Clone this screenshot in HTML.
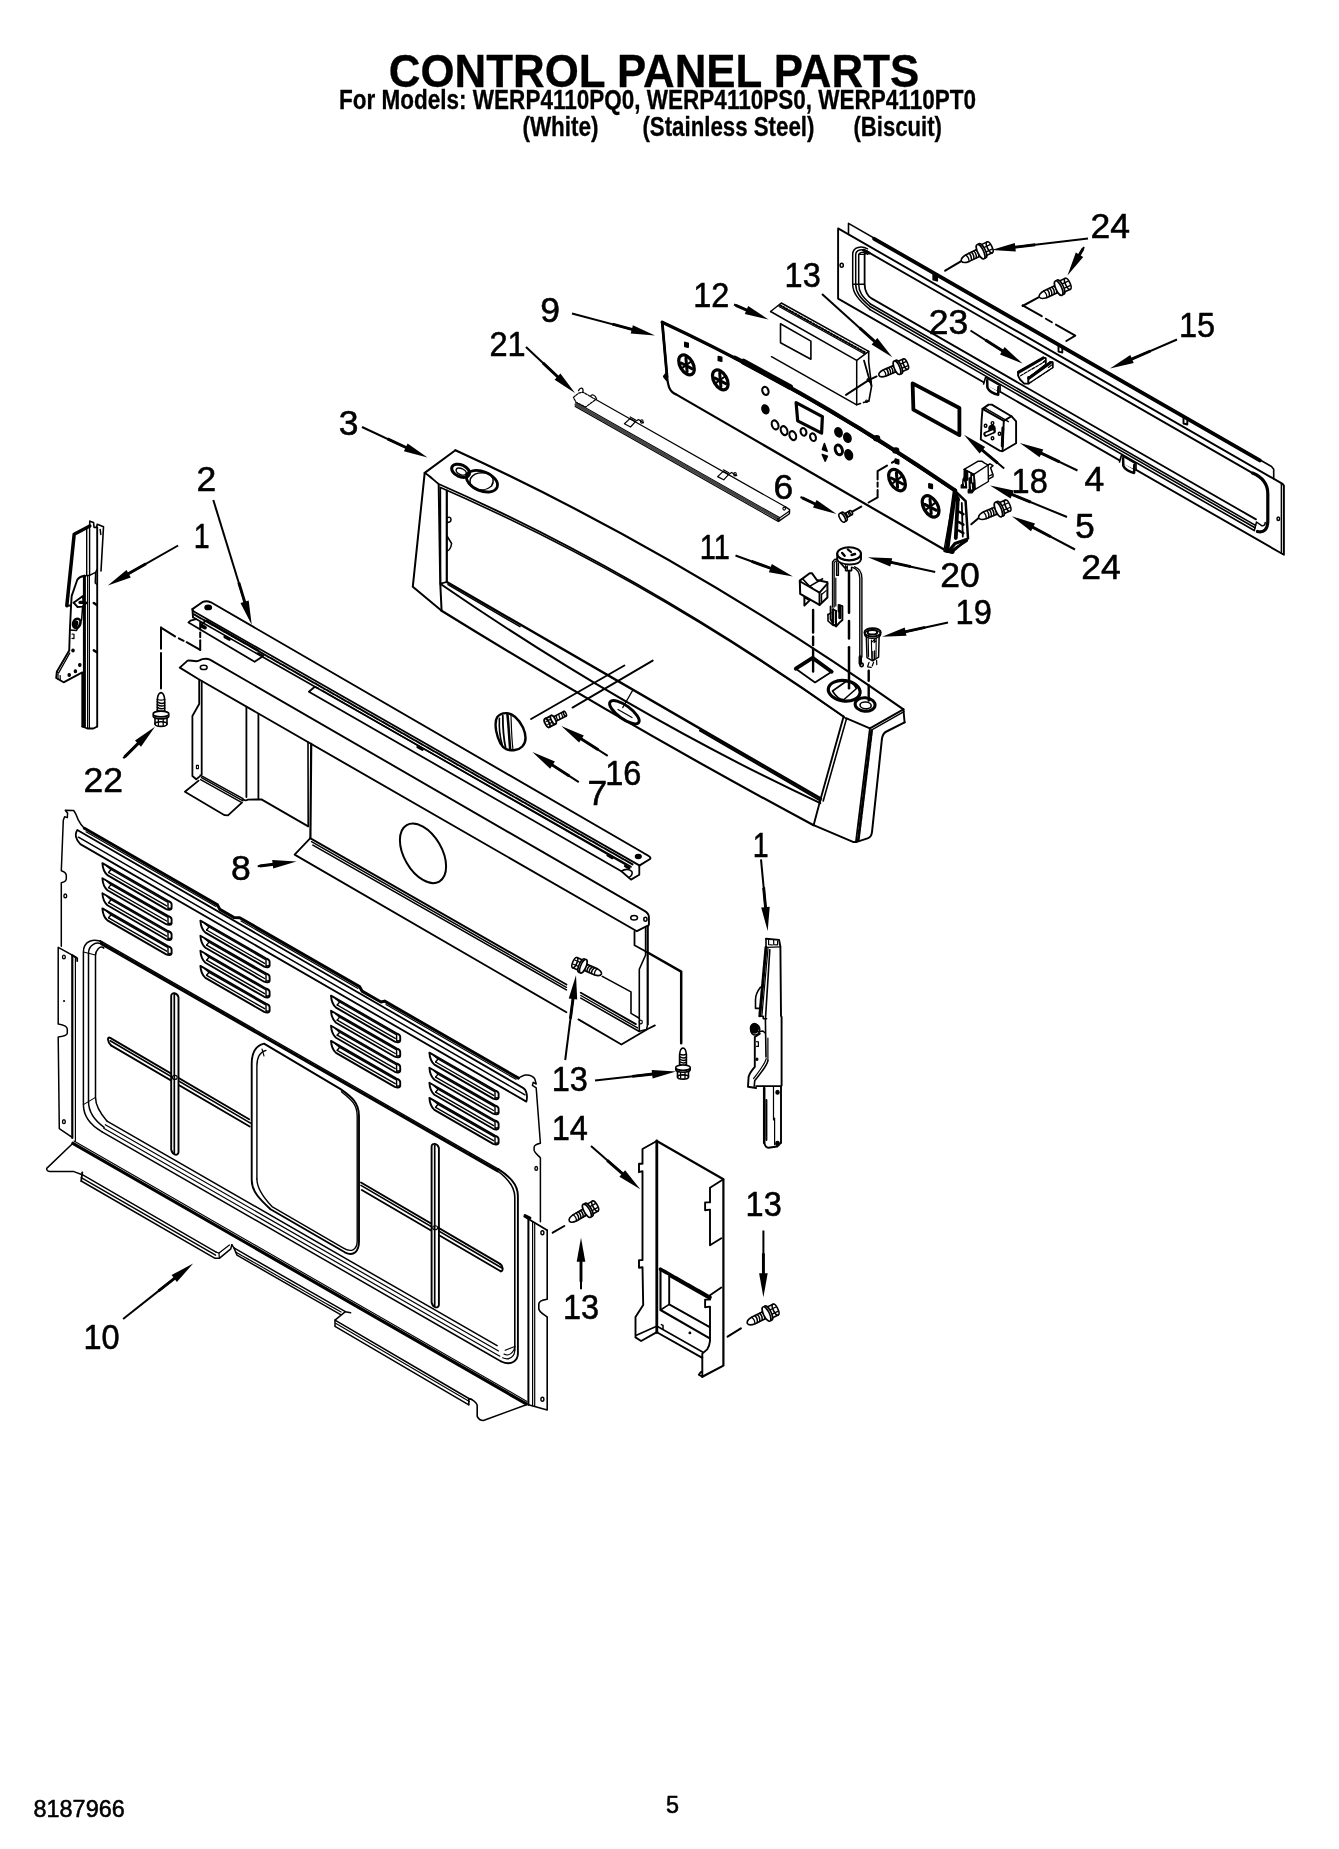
<!DOCTYPE html>
<html lang="en"><head><meta charset="utf-8"><title>CONTROL PANEL PARTS</title>
<style>
html,body{margin:0;padding:0;background:#fff;}
body{width:1339px;height:1849px;overflow:hidden;font-family:"Liberation Sans",sans-serif;}
svg{display:block;position:absolute;left:0;top:0;}
svg text{font-family:"Liberation Sans",sans-serif;fill:#000;stroke:#000;stroke-width:0.55px;stroke-linejoin:round;}
svg text.b{stroke-width:0.3px;}
svg{will-change:transform;}
svg .ah{fill:#000;stroke:none;}
svg .b{font-weight:bold;}
</style></head><body>
<svg width="1339" height="1849" viewBox="0 0 1339 1849" fill="none" stroke="#000" stroke-width="1.5" stroke-linecap="round" stroke-linejoin="round">
<rect x="0" y="0" width="1339" height="1849" fill="#fff" stroke="none"/>
<text class="b" x="388.8" y="86.6" font-size="46" textLength="530.4" lengthAdjust="spacingAndGlyphs">CONTROL PANEL PARTS</text>
<text class="b" x="339" y="108.7" font-size="26.8" textLength="637" lengthAdjust="spacingAndGlyphs">For Models: WERP4110PQ0, WERP4110PS0, WERP4110PT0</text>
<text class="b" x="522.4" y="136.3" font-size="26.8" textLength="76.2" lengthAdjust="spacingAndGlyphs">(White)</text>
<text class="b" x="642.4" y="136.3" font-size="26.8" textLength="172" lengthAdjust="spacingAndGlyphs">(Stainless Steel)</text>
<text class="b" x="853.4" y="136.3" font-size="26.8" textLength="88.6" lengthAdjust="spacingAndGlyphs">(Biscuit)</text>
<text x="33.6" y="1816.9" font-size="23.4">8187966</text>
<text x="666" y="1812.9" font-size="23.4">5</text>
<text x="1090.5" y="238.2" font-size="35.5">24</text>
<text transform="translate(784.6 287) scale(0.915 1)" font-size="35.5">13</text>
<text transform="translate(693.2 307) scale(0.914 1)" font-size="35.5">12</text>
<text x="540.3" y="322.2" font-size="35.5">9</text>
<text transform="translate(489.4 355.7) scale(0.917 1)" font-size="35.5">21</text>
<text x="928.8" y="334.4" font-size="35.5">23</text>
<text transform="translate(1178.9 336.7) scale(0.915 1)" font-size="35.5">15</text>
<text x="338.7" y="435.4" font-size="35.5">3</text>
<text x="196.5" y="491" font-size="35.5">2</text>
<text transform="translate(193.7 548.4) scale(0.804 1)" font-size="35.5">1</text>
<text x="773.5" y="499.2" font-size="35.5">6</text>
<text transform="translate(1011.6 493.2) scale(0.915 1)" font-size="35.5">18</text>
<text x="1084.5" y="490.7" font-size="35.5">4</text>
<text x="1074.9" y="538.4" font-size="35.5">5</text>
<text x="1081.2" y="578.7" font-size="35.5">24</text>
<text transform="translate(699.8 559.4) scale(0.815 1)" font-size="35.5">11</text>
<text x="940.2" y="587" font-size="35.5">20</text>
<text transform="translate(955.6 624.4) scale(0.915 1)" font-size="35.5">19</text>
<text transform="translate(605.2 785.4) scale(0.915 1)" font-size="35.5">16</text>
<text x="587.5" y="805.1" font-size="35.5">7</text>
<text x="83.5" y="792" font-size="35.5">22</text>
<text x="231" y="880" font-size="35.5">8</text>
<text transform="translate(752.7 856.7) scale(0.804 1)" font-size="35.5">1</text>
<text transform="translate(551.7 1091.4) scale(0.915 1)" font-size="35.5">13</text>
<text transform="translate(551.7 1140.1) scale(0.916 1)" font-size="35.5">14</text>
<text transform="translate(745.6 1215.7) scale(0.915 1)" font-size="35.5">13</text>
<text transform="translate(562.9 1318.7) scale(0.915 1)" font-size="35.5">13</text>
<text transform="translate(83.4 1349) scale(0.915 1)" font-size="35.5">10</text>
<polyline points="848.5,234.4 848.5,223.4 1271.5,466.5 1273.7,469.3 1273.7,478.7" stroke-width="1.6"/>
<polyline points="874.2,238.8 1259.8,460.4" stroke-width="3.8"/>
<polyline points="933.3,272.2 933.3,279.7 937.1,280.7 937.1,274.2" stroke-width="1.9" fill="#000"/>
<polyline points="1058.5,344.1 1058.5,351.6 1062.3,352.6 1062.3,346.1" stroke-width="1.9"/>
<polyline points="1183.5,416 1183.5,423.5 1187.3,424.5 1187.3,418" stroke-width="1.9"/>
<polygon points="838.1,228.4 1282.6,483.9 1283.9,485.6 1283.9,554.8 838.1,298.6" stroke-width="1.9"/>
<polyline points="1281.4,484.2 1281.4,552.4" stroke-width="1.5"/>
<ellipse cx="841.7" cy="265.2" rx="1.6" ry="2" stroke-width="1.5"/>
<ellipse cx="1278.3" cy="518.8" rx="1.3" ry="1.8" stroke-width="1.5"/>
<polyline points="866,250.9 1253.5,473.6" stroke-width="1.9"/>
<path d="M1252.5,473.1 C1262,477 1267.8,484 1267.8,494 L1267.8,521 C1267.8,529 1264,533 1257.5,531.5" stroke-width="3.2"/>
<path d="M1254.3,530.5 L1256.5,522 L1262,525.8 C1264,526 1265.2,524.5 1265.2,522.5" stroke-width="1.5"/>
<path d="M867.5,248.8 C862,245.6 852.7,246.5 852.7,254.4 L852.7,284.3 C852.7,293 858,299.5 870,309.6" stroke-width="1.5"/>
<path d="M867.5,251.5 C862.9,248.6 855.7,249.2 855.7,255 L855.7,284.3 C855.7,292.4 860.1,298 870,306.5" stroke-width="1.5"/>
<path d="M867.5,254.2 C863.8,251.6 858.7,251.9 858.7,255.6 L858.7,284.3 C858.7,291.8 862.2,296.5 870,303.5" stroke-width="1.5"/>
<polyline points="870,309.6 1254.3,530.5" stroke-width="1.6"/>
<polyline points="870,306.5 1255,527.8" stroke-width="1.6"/>
<polyline points="870,303.8 1255.5,525.4" stroke-width="1.6"/>
<path d="M868.2,252.2 L866.5,252 C865,252.5 864.6,254 864.6,256 L864.6,284 C864.6,291 868,296.5 871.5,298.4 L1256,519.4" stroke-width="1.8"/>
<polyline points="852.7,284.3 864.6,284.3" stroke-width="1.4"/>
<polyline points="858.7,254.5 864.6,254.5" stroke-width="1.2"/>
<polyline points="863.5,250.2 869,253" stroke-width="3"/>
<polyline points="983.6,383.9 985.6,377.2 1000.1,385.6 1000.1,392" stroke-width="1.6" fill="#fff"/>
<path d="M987.2,380.2 L987.4,387.6 C988.6,390.9 993.6,394 998.2,394.8 L998.4,387" stroke-width="2.5"/>
<polyline points="1119.5,462 1121.5,455.3 1136,463.7 1136,470.1" stroke-width="1.6" fill="#fff"/>
<path d="M1123.1,458.3 L1123.3,465.7 C1124.5,469 1129.5,472.1 1134.1,472.9 L1134.3,465.1" stroke-width="2.5"/>
<path d="M662.2,322.2 Q806.7,389.5 955,490.8 L944.5,549.8 Q810.5,472 676.5,394.6 C669.5,392 668,386 667.1,377.2 Z" stroke-width="2.2" fill="#fff"/>
<path d="M662.2,322.2 Q806.7,389.5 955,490.8" stroke-width="3.2"/>
<polyline points="734.7,357.5 742,361.3 749.2,365.1 756.5,369 763.8,373 771.1,377 778.4,381 785.7,385 793,389.2 800.3,393.3 807.7,397.5 815,401.7 822.3,406 829.6,410.3 837,414.7 844.3,419.1 851.7,423.6 859,428 866.4,432.6 873.7,437.2 881.1,441.8 888.5,446.4 895.8,451.1 903.2,455.9 910.6,460.7 918,465.5 925.4,470.4 932.8,475.3 940.2,480.3 947.6,485.3 955,490.3" stroke-width="4"/>
<polyline points="662.2,322.2 667.1,377.2" stroke-width="2.8"/>
<polygon points="666.4,373.5 664,376.5 666.8,380" stroke-width="2.2" fill="#000"/>
<polyline points="743.4,361.6 790.1,387" stroke-width="5.8"/>
<ellipse cx="876.7" cy="438.3" rx="2.6" ry="2.2" stroke-width="2" fill="#000"/>
<ellipse cx="895.8" cy="450.4" rx="2.6" ry="2.2" stroke-width="2" fill="#000"/>
<ellipse cx="686.5" cy="364.9" rx="10.8" ry="6.5" stroke-width="3.2" fill="#fff" transform="rotate(60 686.5 364.9)"/>
<polyline points="685.9,358.2 687.1,371.6" stroke-width="3"/>
<polyline points="681.1,363 691.9,368.6" stroke-width="3"/>
<polyline points="682,368.1 690.8,361.7" stroke-width="2"/>
<ellipse cx="720.3" cy="379.9" rx="10.8" ry="6.5" stroke-width="3.2" fill="#fff" transform="rotate(60 720.3 379.9)"/>
<polyline points="719.7,373.2 720.9,386.6" stroke-width="3"/>
<polyline points="714.9,378 725.7,383.6" stroke-width="3"/>
<polyline points="715.8,383.1 724.6,376.7" stroke-width="2"/>
<ellipse cx="897" cy="480.1" rx="11.6" ry="7" stroke-width="3.2" fill="#fff" transform="rotate(60 897 480.1)"/>
<polyline points="896.4,472.9 897.6,487.3" stroke-width="3"/>
<polyline points="891.2,478 902.8,484" stroke-width="3"/>
<polyline points="892.1,483.6 901.6,476.6" stroke-width="2"/>
<ellipse cx="930.6" cy="506.4" rx="11.6" ry="7" stroke-width="3.2" fill="#fff" transform="rotate(60 930.6 506.4)"/>
<polyline points="930,499.2 931.2,513.6" stroke-width="3"/>
<polyline points="924.8,504.3 936.4,510.3" stroke-width="3"/>
<polyline points="925.7,509.9 935.2,502.9" stroke-width="2"/>
<polygon points="684.9,342.5 688.1,343.3 688.1,347.1 684.9,346.3" stroke-width="1.8" fill="#000"/>
<polygon points="718.4,356.6 721.6,357.4 721.6,361.2 718.4,360.4" stroke-width="1.8" fill="#000"/>
<polygon points="895.4,459.2 898.6,460 898.6,463.8 895.4,463" stroke-width="1.8" fill="#000"/>
<polygon points="929,483.8 932.2,484.6 932.2,488.4 929,487.6" stroke-width="1.8" fill="#000"/>
<ellipse cx="765.4" cy="390.9" rx="3" ry="4.2" stroke-width="2.1" fill="#fff" transform="rotate(-20 765.4 390.9)"/>
<ellipse cx="765.4" cy="409.3" rx="3" ry="4.2" stroke-width="2.1" fill="#000" transform="rotate(-20 765.4 409.3)"/>
<ellipse cx="775.1" cy="424.9" rx="3.2" ry="4.6" stroke-width="2.1" fill="#fff" transform="rotate(-20 775.1 424.9)"/>
<ellipse cx="784.1" cy="430.6" rx="3.2" ry="4.6" stroke-width="2.1" fill="#fff" transform="rotate(-20 784.1 430.6)"/>
<ellipse cx="792.8" cy="435.6" rx="3.2" ry="4.6" stroke-width="2.1" fill="#fff" transform="rotate(-20 792.8 435.6)"/>
<ellipse cx="803.5" cy="431.9" rx="2.8" ry="3.9" stroke-width="2.1" fill="#fff" transform="rotate(-20 803.5 431.9)"/>
<ellipse cx="813" cy="437.2" rx="2.8" ry="3.9" stroke-width="2.1" fill="#fff" transform="rotate(-20 813 437.2)"/>
<ellipse cx="838.5" cy="432.3" rx="3.2" ry="4.4" stroke-width="2.1" fill="#000" transform="rotate(-20 838.5 432.3)"/>
<ellipse cx="847.4" cy="437.7" rx="3.2" ry="4.4" stroke-width="2.1" fill="#000" transform="rotate(-20 847.4 437.7)"/>
<ellipse cx="838.8" cy="449.9" rx="3.4" ry="5" stroke-width="3" fill="#fff" transform="rotate(-20 838.8 449.9)"/>
<ellipse cx="848.7" cy="454.8" rx="3.4" ry="4.8" stroke-width="2.1" fill="#000" transform="rotate(-20 848.7 454.8)"/>
<polygon points="824.4,443.5 827.2,451.2 822.4,449.6" stroke-width="1.5" fill="#000"/>
<polygon points="822.2,454.4 827.4,456.2 825.2,461.2" stroke-width="1.5" fill="#000"/>
<polygon points="796.1,402.7 822.4,416.7 821.6,433.1 797.7,420.8" stroke-width="3.2"/>
<polyline points="955,490.8 965.6,501.2 968,538.4 952.4,551.8 944.5,551" stroke-width="2.5" fill="#fff"/>
<polyline points="955,490.8 946.9,550.4" stroke-width="4.5"/>
<polyline points="957.8,498.5 955.8,538" stroke-width="3.8"/>
<polygon points="956,492.5 959,500 956.5,500" stroke-width="2" fill="#000"/>
<polyline points="961.8,503 962.8,536.5" stroke-width="1.8"/>
<polyline points="958.6,511.5 963.4,514.1" stroke-width="2.5"/>
<polyline points="958.6,522 963.4,524.6" stroke-width="2.5"/>
<polyline points="958.6,530.5 963.4,533.1" stroke-width="2.5"/>
<polyline points="946.9,550.4 952.4,551.8" stroke-width="4.5"/>
<polyline points="950.5,549 955,543.5 966.5,539.6" stroke-width="3.2"/>
<polyline points="953,549.8 966.8,540.6" stroke-width="2.5"/>
<polyline points="896.2,460.2 892,462.6" stroke-width="2.2"/>
<polyline points="887,465.6 877.6,471.1 877.6,479.4" stroke-width="2"/>
<polyline points="877.6,482.6 877.6,486.8" stroke-width="2"/>
<polyline points="877.6,490 877.6,497.4 868.6,502.5" stroke-width="2"/>
<polyline points="861.2,506.6 851.4,512.2" stroke-width="2"/>
<polyline points="770.6,311.5 781.3,303 868.7,351.4 856.7,360.4" stroke-width="1.5"/>
<polyline points="780.2,305.4 866,353" stroke-width="2.2" stroke-dasharray="1.4 2.0"/>
<polyline points="779,306.6 864.6,354" stroke-width="1.2"/>
<polyline points="770.6,311.5 856.7,360.4 856.7,404.8 771.5,356.7" stroke-width="1.5"/>
<polygon points="780.5,323.8 810.9,341.1 810.9,359.2 780.5,342.7" stroke-width="1.6"/>
<polyline points="868.7,351.4 868.7,362 871.6,386 868.9,401" stroke-width="1.6"/>
<polyline points="856.7,404.8 860.5,403.6" stroke-width="1.6"/>
<polyline points="863.5,402.6 868.5,401.2" stroke-width="1.6"/>
<ellipse cx="866.6" cy="401.2" rx="1" ry="1.2" stroke-width="1.2"/>
<polyline points="864,360.6 868.4,376 871.4,385.6" stroke-width="1.8"/>
<polyline points="846,394.9 868.7,380.1 876.6,376.4" stroke-width="1.9"/>
<polyline points="868,379.6 870.4,381.6" stroke-width="3"/>
<polygon points="912.6,383.4 959.4,408 959.4,435.2 913.4,409.7" stroke-width="3.8"/>
<polygon points="982.5,408.9 988.6,404.6 991.8,404.6 1011.4,416.2 1016.1,421.4 1016.1,443.2 1002.4,451.2 999.6,450.6 980.8,439.5 981.6,420" stroke-width="1.9" fill="#fff"/>
<polyline points="982.5,408.9 1003.8,420.9 1002.6,450.8" stroke-width="1.9"/>
<polyline points="1003.8,420.9 1011.4,416.2" stroke-width="1.9"/>
<polyline points="984.3,407.6 1008.4,421.6" stroke-width="1.4"/>
<polyline points="1002.8,428 1002.2,446" stroke-width="2.8"/>
<ellipse cx="985.6" cy="425.7" rx="1.3" ry="1.5" stroke-width="1.4"/>
<ellipse cx="992.5" cy="423.1" rx="1.3" ry="1.5" stroke-width="1.4"/>
<ellipse cx="999.5" cy="433.8" rx="1.3" ry="1.5" stroke-width="1.4"/>
<ellipse cx="992.5" cy="438.3" rx="1.3" ry="1.5" stroke-width="1.4"/>
<ellipse cx="992" cy="428.8" rx="3" ry="3.4" stroke-width="1.5" fill="#000"/>
<polyline points="993.2,431.2 986,434.2" stroke-width="5.2"/>
<polyline points="992.6,431.4 986.4,434" stroke-width="2" stroke="#fff"/>
<polygon points="964.2,469.3 978.2,461.2 981.7,461.2 984.6,463.2 988.1,465 988.4,481.5 975.2,489.3 973.8,474.4" stroke-width="1.4" fill="#fff"/>
<polyline points="964.2,469.3 973.8,474.4 988.1,465" stroke-width="1.4"/>
<polygon points="964.2,469.3 967.6,471.4 967.8,480 966.2,480.6 966.6,488 961.2,488 961.2,485 962.6,484.4 963,479 964,477.4" stroke-width="1.2" fill="#000"/>
<polygon points="969.1,478 970.8,477.6 971,473.2 973.8,474.4 974.8,480 974.8,489.5 972,492.8 968.2,492.8 968.2,490 969.3,489.2" stroke-width="1.2" fill="#000"/>
<polyline points="972.6,476.4 972.8,482" stroke-width="1.1" stroke="#fff"/>
<polyline points="971.2,484 971.6,489" stroke-width="1.1" stroke="#fff"/>
<polyline points="964,482 964.6,485.6" stroke-width="1" stroke="#fff"/>
<polyline points="988.1,465 990,463.8 993,465.6 990.6,467.8 993,474.8 993,476.6 988.6,479.2" stroke-width="1.5"/>
<polyline points="989,476 992,474.6" stroke-width="1.2"/>
<polygon points="1018.2,371.6 1043.4,357.4 1045.8,358 1045.8,363.8 1028.3,377.6 1050.4,361.8 1052.8,362.1 1052.8,367.6 1028.7,383.6 1024.2,383.6 1020.1,379.5 1018.2,375.8" stroke-width="1" fill="#fff"/>
<polyline points="1018.8,372.2 1043.2,358" stroke-width="3.1"/>
<polyline points="1042.6,357.8 1045.8,358 1045.8,363.8" stroke-width="1.5"/>
<polyline points="1020.5,375.8 1045.8,361" stroke-width="1.2" stroke-dasharray="3 1.4"/>
<polyline points="1018.2,371.6 1018.2,375.8 1020.1,379.5 1024.2,383.6 1028.7,383.6" stroke-width="1.8"/>
<polyline points="1028.8,378.2 1050.6,362.6" stroke-width="3.1"/>
<polyline points="1050,362 1052.8,362.1 1052.8,367.6" stroke-width="1.5"/>
<polyline points="1028.7,383.6 1052.8,367.6" stroke-width="1.4" stroke-dasharray="4 1.2"/>
<polyline points="1028.3,377 1028.3,382.2" stroke-width="2"/>
<polyline points="1043,362.4 1045.4,360.2" stroke-width="1.2"/>
<polyline points="1048.4,367.4 1051.6,365" stroke-width="1.2"/>
<path d="M455.4,450.3 Q679.4,552.6 903.4,709.3 L904.6,722.4 L884.3,733.2 L881.9,739.2 L871.7,834.8 L867.5,838.4 L856.8,841.9 L853,841.9 L813.6,825.2 Q627.8,725.9 441.6,610.7 L412.8,586.7 L424.7,472.9 Z" stroke-width="0.1" fill="#fff"/>
<path d="M455.4,450.3 Q679.4,552.6 903.4,709.3" stroke-width="2.2"/>
<polyline points="455.4,450.3 424.7,472.9" stroke-width="2"/>
<path d="M424.7,472.9 C430,476 434,480.5 438.7,484 Q641.2,573.0 843.6,716.5" stroke-width="1.9"/>
<path d="M440.5,487.6 Q642.5,575.4 846.2,718.6" stroke-width="1.6"/>
<polyline points="424.7,472.9 412.8,586.7 441.6,610.7" stroke-width="2"/>
<polyline points="438.7,484.6 440.2,582 441.6,610.7" stroke-width="2"/>
<polyline points="440.4,487.4 440.6,583.5" stroke-width="1.5"/>
<polyline points="446.8,490.5 446.8,582" stroke-width="2.2"/>
<polyline points="440.4,583.6 446.8,582" stroke-width="1.8"/>
<path d="M447,517.8 C449,516.5 451,517.5 451,519.5 C451,521.5 449,522.5 447,522.5" stroke-width="1.5"/>
<path d="M447,536 L451.6,543.5 C451,547.5 449,550.5 447,551" stroke-width="1.5"/>
<polyline points="446.8,582 821,798.6" stroke-width="2.5"/>
<polyline points="448,584.6 520,626.6" stroke-width="1.5"/>
<polyline points="700,730.6 820.4,800.6" stroke-width="2"/>
<path d="M440.6,584 Q631,715 820.3,803.1" stroke-width="2"/>
<path d="M441.6,610.7 Q627.8,725.9 813.6,825.2" stroke-width="2.2"/>
<polyline points="843.6,716.5 820.4,799.8 813.6,825.2" stroke-width="1.9"/>
<polyline points="846.6,718.4 823.2,801" stroke-width="1.6"/>
<polyline points="846.6,718.4 869.9,728.4 903.4,709.3" stroke-width="1.9"/>
<polyline points="871.4,730.2 904,711.6" stroke-width="1.4"/>
<polyline points="903.4,709.3 904.6,722.4" stroke-width="1.9"/>
<path d="M904.6,722.4 L886.5,731.5 C883.5,733 882.4,735 881.9,739.2 L872.0,832 C871.5,836 870,837.6 867.5,838.4 L856.8,841.9 L853.0,841.9 L813.6,825.2" stroke-width="2"/>
<polyline points="869.9,728.4 856,841.2" stroke-width="1.8"/>
<polyline points="871.6,730.8 858.2,840.6" stroke-width="2.8" stroke-dasharray="5 1.6"/>
<ellipse cx="460.6" cy="470.8" rx="9.4" ry="5.9" stroke-width="3" transform="rotate(24 460.6 470.8)"/>
<ellipse cx="461.2" cy="471.6" rx="5.4" ry="3" stroke-width="1.5" transform="rotate(24 461.2 471.6)"/>
<ellipse cx="482" cy="481.2" rx="16.3" ry="9.6" stroke-width="2.8" transform="rotate(22 482 481.2)"/>
<path d="M470.5,478.5 C474,472.5 480,471.5 489,473.5 C493.5,476 494.5,481 491.5,486 C486.5,490.5 479.5,491 473.5,488 C470,485.5 469.5,481.5 470.5,478.5 Z" stroke-width="1.5"/>
<polyline points="795.8,668.7 812.6,657.9 831.7,671.7" stroke-width="3.8"/>
<polyline points="831.7,671.7 815,682.4 795.8,668.7" stroke-width="1.8"/>
<ellipse cx="844.2" cy="690.8" rx="16" ry="10.2" stroke-width="3.2" transform="rotate(8 844.2 690.8)"/>
<path d="M832.5,691 L846,681.5 C850,681 853,682 856.5,688.5 L844,699.5 C840,700 836.5,697.5 832.5,691 Z" stroke-width="1.6"/>
<ellipse cx="865.1" cy="704.5" rx="10" ry="6.8" stroke-width="3" transform="rotate(5 865.1 704.5)"/>
<ellipse cx="865.6" cy="705.4" rx="5.6" ry="3.4" stroke-width="1.6" transform="rotate(5 865.6 705.4)"/>
<ellipse cx="624.4" cy="712.2" rx="17.6" ry="6.6" stroke-width="3" transform="rotate(36 624.4 712.2)"/>
<polyline points="632.5,690.6 622.7,707.6" stroke-width="1.2"/>
<polyline points="618,709.5 632,717.5" stroke-width="1.2"/>
<polyline points="531.1,719 624.4,665.5" stroke-width="1.9"/>
<polyline points="572.5,707.6 652.7,660.6" stroke-width="1.9"/>
<polyline points="595.8,399.6 785.8,507.1" stroke-width="1.2"/>
<polyline points="576.1,402.6 779.5,517.6" stroke-width="1.2"/>
<polyline points="576.1,404.6 778.7,519.2" stroke-width="3.2" stroke-dasharray="1.3 1.3" stroke="#444"/>
<polyline points="575.2,406.6 777.8,521.2" stroke-width="1.1"/>
<polygon points="573.4,397.4 578.5,393.2 583,392.2 595.8,399.6 590.2,403.6 585.8,407 576.1,402.4" stroke-width="1.2" stroke-dasharray="2.2 1.2"/>
<path d="M578.5,390.6 C580.5,386.8 583.5,387.6 583,391.6" stroke-width="1.2"/>
<path d="M590.5,396.4 C591.4,393.6 595.2,394.6 596.6,399" stroke-width="1.2"/>
<polyline points="630,418.6 635.5,421.6 630.5,427 624.4,423.8 630,418.6" stroke-width="1.2"/>
<polyline points="635.5,421.6 638.4,419.6 643.5,422.8" stroke-width="1.2"/>
<polyline points="630.2,417 635.6,420" stroke-width="1.2"/>
<ellipse cx="641.8" cy="421.4" rx="1.3" ry="1.7" stroke-width="1.1"/>
<polyline points="723.2,471.4 728.7,474.4 723.7,479.8 717.6,476.6 723.2,471.4" stroke-width="1.2"/>
<polyline points="728.7,474.4 731.6,472.4 736.7,475.6" stroke-width="1.2"/>
<polyline points="723.4,469.8 728.8,472.8" stroke-width="1.2"/>
<ellipse cx="735" cy="474.2" rx="1.3" ry="1.7" stroke-width="1.1"/>
<polyline points="785.8,507.1 789.6,509.6 789.4,513.8 778.6,521.4 777.6,519" stroke-width="1.4"/>
<polyline points="778.8,518.4 788.8,511.4" stroke-width="1.2"/>
<ellipse cx="784.2" cy="508.6" rx="1.3" ry="1.5" stroke-width="1.1"/>
<polygon points="799.8,580.6 809.7,573.2 811.9,573.2 816.8,580 827.4,582.2 827.4,597.6 819.5,604.9 800.2,593.9" stroke-width="2" fill="#fff"/>
<polyline points="799.8,581.2 819.5,592.6 827.4,583.6" stroke-width="1.9"/>
<polyline points="819.5,592.6 819.5,604.9" stroke-width="1.9"/>
<polyline points="802.6,578.8 809.6,586.4 822.6,578.8" stroke-width="1.6"/>
<polyline points="809.6,586.4 812.2,588" stroke-width="1.5"/>
<polyline points="821.5,594 821.5,602" stroke-width="1.4"/>
<polyline points="821.5,594.5 826.2,590.6" stroke-width="1.2"/>
<polygon points="804.4,597 804.4,605.6 809.6,600.4" stroke-width="2" fill="#fff"/>
<polyline points="813.1,610 813.1,632.5" stroke-width="2.4"/>
<polyline points="813.1,636.8 813.1,645" stroke-width="2.4"/>
<polyline points="813.1,648.8 813.1,671.6" stroke-width="2.4"/>
<polyline points="849,570.6 849,612.8" stroke-width="2.5"/>
<polyline points="849,621 849,638.5" stroke-width="2.5"/>
<polyline points="849,647.2 849,688.2" stroke-width="2.5"/>
<polyline points="832.6,608 832.6,562 834.4,559.6 840,558.6" stroke-width="1.5"/>
<polyline points="834.2,607 834.2,562.6 835.6,561.2 840,560.4" stroke-width="1.2"/>
<polyline points="835.8,606 835.8,578" stroke-width="1.2"/>
<polyline points="836.6,562 836.6,575.4 838.4,575.4 838.4,563" stroke-width="1.4"/>
<path d="M837.2,553.8 L837.2,559.4 C838.5,566 859.5,566.5 861.0,559.4 L861.0,553.8" stroke-width="1.9" fill="#fff"/>
<ellipse cx="849.1" cy="553.8" rx="11.9" ry="6.6" stroke-width="2.1" fill="#fff"/>
<polyline points="842.2,553 844.6,555.8" stroke-width="2.5"/>
<polyline points="847.8,549.4 851,552" stroke-width="2.2"/>
<polyline points="851.6,555 855,554" stroke-width="2.5"/>
<polyline points="840.8,563.4 845.6,568.6 845.6,570.6 851.6,570.6 851.6,567.4" stroke-width="1.6" fill="#fff"/>
<polyline points="845.6,565.4 845.6,569 847.4,565.8 847.4,570" stroke-width="1.1"/>
<path d="M852.6,567.4 C857.5,569.2 859.6,573 859.8,578 L859.8,657" stroke-width="1.4"/>
<path d="M854.6,566.8 C859.6,568.4 861.8,572.6 861.9,578 L861.9,657" stroke-width="1.4"/>
<polyline points="860.3,657 860.3,663.6" stroke-width="3.5"/>
<ellipse cx="861.6" cy="664.8" rx="1.6" ry="1.8" stroke-width="1.6"/>
<polyline points="830.6,606.4 830.6,619.2 833.6,624.6 836.2,626.4 839.4,622.6 842.4,620 842.4,606.2 838.6,605 838.6,611.6" stroke-width="1.9" fill="#fff"/>
<polyline points="828,614.4 828,621 833.2,625.4" stroke-width="1.6"/>
<polyline points="828,614.6 831,612.8" stroke-width="1.5"/>
<polyline points="833,609.6 833,622.6" stroke-width="2.5"/>
<polyline points="836,611 836,625.6" stroke-width="2"/>
<polyline points="839.8,606 839.8,617.8" stroke-width="3"/>
<polyline points="833.4,609.4 836.4,611" stroke-width="1.5"/>
<polyline points="866.2,633.4 867,657.6 872.6,660.8 878.6,657.2 879.2,633.6" stroke-width="1.5" fill="#fff"/>
<ellipse cx="872.6" cy="632.4" rx="8.2" ry="4.2" stroke-width="1.9" fill="#fff"/>
<ellipse cx="872.6" cy="634.2" rx="8.2" ry="4.2" stroke-width="1.2"/>
<ellipse cx="872.4" cy="632.2" rx="4.8" ry="2.3" stroke-width="2"/>
<polyline points="868.2,638.2 868.6,656.6" stroke-width="1.1"/>
<polyline points="871.4,640 871.8,659.2" stroke-width="1.1"/>
<polyline points="876.2,638.4 876,657.6" stroke-width="1.1"/>
<polyline points="872.8,651.4 872.8,660 874.6,659.2 874.6,650.8" stroke-width="1.2"/>
<polyline points="872.4,641.6 875.2,638.6 874,642.6 876,641" stroke-width="1.1"/>
<polyline points="869,662.4 867.6,666.8 871.2,667.4" stroke-width="1.2"/>
<polyline points="873.6,662.2 872.2,666" stroke-width="1.2"/>
<polyline points="876.6,660.4 876.8,664.6" stroke-width="1.2"/>
<polyline points="868.7,670.7 868.7,680.8" stroke-width="2.4"/>
<polyline points="868.7,685.4 868.7,700.5" stroke-width="2.4"/>
<path d="M506.9,713.1 C512,713.4 518.6,718.4 523.0,727.6 C526.2,735 526.6,742 522.3,746.5 C518.6,750.4 511.6,751.2 506.2,749.1 C501.6,747 498.2,741 496.2,731 C495.2,725 495.4,720 497.2,717.2 C499.2,714.2 502.6,712.9 506.9,713.1 Z" stroke-width="2.4" fill="#fff"/>
<path d="M507.4,714.0 C508.6,725 509.2,738 510.2,749.4" stroke-width="2.5"/>
<path d="M511.0,715.4 C511.4,727 511.6,739 513.0,749.6" stroke-width="1.2"/>
<path d="M502.8,715.6 C502.8,726 503.4,738 505.6,747.6" stroke-width="1.8"/>
<path d="M499.4,718.2 C499.0,727 499.8,737 502.2,744.4" stroke-width="1.6"/>
<polygon points="566.2,716 555.1,721.8 552.7,717.2 563.8,711.4" stroke-width="1.6" fill="#fff"/>
<ellipse cx="564.9" cy="713.8" rx="1.2" ry="2.6" stroke-width="1.6" fill="#fff" transform="rotate(152.5 564.9 713.8)"/>
<polyline points="562.8,717.6 561.3,712.9" stroke-width="1.2"/>
<polyline points="560.1,719 558.6,714.3" stroke-width="1.2"/>
<polyline points="557.5,720.3 556,715.7" stroke-width="1.2"/>
<polygon points="555.6,723.8 549.3,727.1 545,718.9 551.4,715.6" stroke-width="1.9" fill="#fff"/>
<ellipse cx="553.3" cy="719.8" rx="2" ry="4.8" stroke-width="1.8" fill="#fff" transform="rotate(152.5 553.3 719.8)"/>
<ellipse cx="547.1" cy="723" rx="2" ry="4.8" stroke-width="1.9" fill="#fff" transform="rotate(152.5 547.1 723)"/>
<polyline points="552.4,722.1 547.7,724.5" stroke-width="1.2"/>
<polyline points="550.8,719.1 546.1,721.5" stroke-width="1.2"/>
<polyline points="192.4,609.3 193,617.2" stroke-width="1.9"/>
<path d="M193.4,611.3 L192.4,609.1 L203.0,601.8 C205.5,600.8 208,601 210.9,602.3 L644.1,853.3 C649.5,856 651.2,857.5 650.1,859.0 L639.3,865.6" stroke-width="1.9"/>
<ellipse cx="208.2" cy="607.4" rx="3.2" ry="2.2" stroke-width="1.5" fill="#000"/>
<ellipse cx="638.3" cy="856.6" rx="2.8" ry="2" stroke-width="1.5" fill="#000"/>
<polyline points="193.4,611.3 639.3,865.4" stroke-width="1.8"/>
<polyline points="193.6,614.2 633,864.6" stroke-width="2" stroke-dasharray="2 1.4"/>
<polyline points="193,617.2 631,866.8" stroke-width="1.6"/>
<polyline points="225,636.8 229.2,639.2" stroke-width="3.2"/>
<polyline points="418,746.9 422.2,749.2" stroke-width="3.2"/>
<polyline points="608,855.1 612.2,857.5" stroke-width="3.2"/>
<polyline points="196,619.2 190.5,620.6 188.5,622.4 254.6,661.8 263.3,655.9 258,653" stroke-width="1.8"/>
<polyline points="201,625 206,620.4 258.4,650.4" stroke-width="1.8"/>
<polyline points="202,626 205,627.6" stroke-width="3.8"/>
<polyline points="318,688.2 314.8,686.8 308.9,691.7 621.4,871.2 631,879.6 639.3,874.8 639.3,865.6" stroke-width="1.8"/>
<path d="M621.4,871.2 C625,868.6 630,869 631.8,871.4 C633,873.6 631.4,876.6 628.6,877.6" stroke-width="1.6"/>
<polyline points="625.5,866 629,868" stroke-width="3"/>
<polyline points="322,690.4 625,864.4" stroke-width="1.5"/>
<path d="M209.9,659.6 L644.1,910.6 C647.5,912.6 648.9,914.5 648.9,917.0 L648.9,925.0 L636.9,931.2 L198.3,679.0 L179.8,667.6 L187.6,660.6 C190,660.2 193,661.2 196.5,661.2 C199,661.0 200.5,659.6 202.6,659.1 C205,658.6 207.5,658.6 209.9,659.6 Z" stroke-width="1.9" fill="#fff"/>
<ellipse cx="203.7" cy="667.4" rx="3.4" ry="2.1" stroke-width="1.5"/>
<ellipse cx="634.1" cy="917.8" rx="3.4" ry="2.3" stroke-width="1.5"/>
<ellipse cx="645.4" cy="919.2" rx="1.6" ry="2" stroke-width="1.5"/>
<polyline points="199.2,679.6 199.2,704 192.4,716 192.4,776 196.2,779.2 199.8,776.4" stroke-width="1.8"/>
<polyline points="201.7,681 201.7,774.4" stroke-width="1.8"/>
<polygon points="196.4,765.4 198.4,765.4 198.4,768.6 196.4,768.6" stroke-width="1.1"/>
<polyline points="246.4,707 246.4,797" stroke-width="1.8"/>
<polyline points="258.4,714 258.4,798.6" stroke-width="1.8"/>
<polyline points="200.2,775.1 242.9,798.6" stroke-width="1.6"/>
<polyline points="201.4,777.6 243,800.8" stroke-width="1.4"/>
<polyline points="200.6,779.6 241.9,802.6" stroke-width="1.4"/>
<polyline points="198.6,780.6 184.9,791.8 224.6,815.2 228,815.4 241.9,802.6" stroke-width="1.8"/>
<path d="M243.0,799.4 C245,800.6 246.5,800.6 248,799.6 L261.4,799.4 L308.2,826.4" stroke-width="1.8"/>
<polyline points="308,742 308.2,826.4" stroke-width="1.6"/>
<polyline points="311.2,743.9 310.4,838.1" stroke-width="2.2"/>
<polyline points="310.1,838.1 566.4,984.5" stroke-width="1.9"/>
<polyline points="580.8,992.7 635.8,1024.1" stroke-width="1.9"/>
<polyline points="311.5,841.7 566.4,987.3" stroke-width="1.4"/>
<polyline points="580.8,995.5 637.6,1027.9" stroke-width="1.4"/>
<polyline points="312.9,845.1 566.4,989.9" stroke-width="1.6"/>
<polyline points="580.8,998.1 639.3,1031.5" stroke-width="1.6"/>
<polyline points="310.1,838.4 294.6,854.6 566.4,1012.2" stroke-width="1.8"/>
<polyline points="578.4,1019.4 621.4,1044.5 647.7,1029 654.9,1025.4" stroke-width="1.8"/>
<polyline points="647.7,926.2 647.7,1024.2" stroke-width="2.2"/>
<polyline points="645.6,927.4 645.6,955 639.3,969.2 639.3,1031.3" stroke-width="1.6"/>
<polyline points="647.7,1024.2 646.5,1029.5 639.3,1031.3" stroke-width="1.5"/>
<ellipse cx="640.8" cy="1022" rx="1.5" ry="1.9" stroke-width="1.2"/>
<polyline points="634.5,931.4 634.5,945.3 647.7,952.5" stroke-width="1.8"/>
<polyline points="602.3,976.4 631,991.9 631,1013.4 639.3,1018.2" stroke-width="1.6"/>
<polyline points="647.7,952.5 681.2,971.6 681.2,1043.3" stroke-width="2.5"/>
<ellipse cx="423" cy="853.3" rx="32.6" ry="18.9" stroke-width="2" transform="rotate(60 423 853.3)"/>
<polyline points="161,627.6 161,648.8" stroke-width="2"/>
<polyline points="161,653 161,688.6" stroke-width="2"/>
<polyline points="161,627.6 175,636.4" stroke-width="2"/>
<polyline points="178.8,638.4 183.6,640.8" stroke-width="2"/>
<polyline points="186.6,642.2 200.2,649.9" stroke-width="2"/>
<polyline points="200.2,649.9 200.2,640.2" stroke-width="2"/>
<polyline points="200.2,637.2 200.2,632.4" stroke-width="2"/>
<polyline points="200.2,629.4 200.2,622.6" stroke-width="2"/>
<polyline points="89.8,521.2 93.5,522.4 94.1,527.4 96.6,527.4 97.2,524.3 103.5,526.8 101,571" stroke-width="1.6"/>
<polyline points="97.2,527.4 97.2,726.5" stroke-width="1.9"/>
<polyline points="100.2,529.6 100.8,534.4" stroke-width="1.5"/>
<polyline points="89.8,521.2 89.6,527" stroke-width="1.6"/>
<polyline points="89.8,526 74.2,534.3 66.8,605.8" stroke-width="3.5"/>
<polyline points="66.8,605.8 70,605.4" stroke-width="2"/>
<polyline points="86.7,527.6 86.7,575" stroke-width="1.4"/>
<polyline points="89.6,526.4 89.6,575" stroke-width="1.4"/>
<polyline points="84.4,576 84.4,726.5" stroke-width="3"/>
<polyline points="87.6,576.4 87.6,728" stroke-width="1.2"/>
<polyline points="89.4,575.6 89.4,728.4" stroke-width="1.2"/>
<polyline points="83.6,576 90,575.2 95.6,572.4 97,569.6" stroke-width="1.5"/>
<polyline points="95.6,572.6 95.2,583 97,584.6" stroke-width="1.4"/>
<path d="M83.6,576.0 C80.5,576.6 78.6,577.6 77.3,579.7 L71.7,595.9 L71.1,604.6 L69.9,629.5 L69.2,650.6 L56.8,671.8 L56.2,678.0 L63.6,682.3 L82.3,672.4 L82.3,726.5" stroke-width="1.9"/>
<polyline points="56.8,671.8 58.6,673 69.8,653" stroke-width="1.4"/>
<polyline points="58,674.2 58,679.2" stroke-width="1.2"/>
<polyline points="60.2,675.6 60.2,680.4" stroke-width="1.2"/>
<polyline points="73.6,602.7 82.9,595.9 83.6,604" stroke-width="1.9"/>
<polyline points="73.6,602.7 77.6,607 82.4,606.6 87.2,602.2" stroke-width="1.9"/>
<polyline points="80,602.4 84,602.4" stroke-width="3.2"/>
<polyline points="82.6,607 81.6,620 76.5,630.5 70,630" stroke-width="1.5"/>
<ellipse cx="76.7" cy="623.4" rx="3.6" ry="4.8" stroke-width="2.5" transform="rotate(20 76.7 623.4)"/>
<ellipse cx="75.6" cy="624" rx="1.6" ry="2.6" stroke-width="2" fill="#000" transform="rotate(20 75.6 624)"/>
<polyline points="72,634 74,634.4 74,638.6 72,638.4" stroke-width="1.2"/>
<ellipse cx="73" cy="650.6" rx="1.2" ry="1.4" stroke-width="1.2" fill="#000"/>
<ellipse cx="79.8" cy="665" rx="1.2" ry="1.4" stroke-width="1.2" fill="#000"/>
<ellipse cx="75.4" cy="671.2" rx="1.2" ry="1.4" stroke-width="1.2" fill="#000"/>
<ellipse cx="69.2" cy="675" rx="1.2" ry="1.4" stroke-width="1.2" fill="#000"/>
<polyline points="93.8,603 96.8,605" stroke-width="2.5"/>
<polyline points="93.8,650.4 96.8,652.2" stroke-width="2.5"/>
<path d="M82.3,726.5 L87.3,728.5 L93.5,728.5 L97.2,726.5" stroke-width="1.8"/>
<polyline points="766,938.7 779.1,939.9 780.4,946.8 781,1015.8 781.6,1017 781.6,1085.5 781,1086.6 781,1142.7" stroke-width="1.9"/>
<polyline points="766,938.7 766,947.4" stroke-width="1.6"/>
<polyline points="768.6,940 768.6,944.6 772.6,945" stroke-width="1.2"/>
<polyline points="773.6,940.2 773.8,944.6 777.6,944.8 777.6,941" stroke-width="1.2"/>
<polyline points="766,947.4 780.4,946.8" stroke-width="1.2"/>
<polyline points="766,947.4 759.8,1015.8" stroke-width="3" stroke-dasharray="5 1.2"/>
<polyline points="768,948.6 762,1014.8" stroke-width="1.2"/>
<polyline points="769.8,949.9 765.4,1019.6 766,1056.9" stroke-width="1.6"/>
<polyline points="767.9,1038 767.9,1060.6" stroke-width="1.2"/>
<path d="M760.4,987.2 C757.5,991 755.5,995.5 755.5,999.6 L755.5,1008.4 L760.4,1008.4" stroke-width="1.6"/>
<polyline points="759.8,1015.8 763.2,1016.4 763.2,1018.6 766.6,1018.8" stroke-width="1.6"/>
<ellipse cx="754.4" cy="1028.3" rx="3.8" ry="4.6" stroke-width="1.8" fill="#000"/>
<ellipse cx="755.2" cy="1029.6" rx="4.6" ry="5.4" stroke-width="1.5"/>
<polyline points="758.6,1031.8 762.9,1031 765.2,1033" stroke-width="1.6"/>
<path d="M759.8,1033.6 L754.8,1037.0 L754.8,1066.8 C752,1070 749.5,1073 748.6,1076.8 L748.0,1086.8 L756.1,1088.0" stroke-width="1.9"/>
<path d="M767.9,1060.6 C767,1066 760,1074 754.8,1080.5 L754.2,1086.2" stroke-width="1.6"/>
<path d="M766.2,1058.6 C765,1064 758.6,1072 753.6,1078.6" stroke-width="1.2"/>
<polyline points="756.6,1041.6 758.4,1041.8 758.4,1046.4 756.6,1046.4" stroke-width="1.2"/>
<ellipse cx="757" cy="1059.2" rx="0.9" ry="1.2" stroke-width="1.1" fill="#000"/>
<polyline points="756.1,1086.1 781,1086.1" stroke-width="1.9"/>
<polyline points="764.2,1088 764.2,1142.7" stroke-width="2.5"/>
<polyline points="766.4,1100 766.4,1140" stroke-width="2"/>
<polyline points="773.5,1086.8 773.5,1120" stroke-width="1.2"/>
<polyline points="774.6,1118 774.6,1144.6" stroke-width="1.2"/>
<path d="M764.2,1142.7 C765,1146 766.5,1147.6 768.5,1147.7 L777.2,1146.5 L781.0,1142.7" stroke-width="1.9"/>
<ellipse cx="777.5" cy="1092.3" rx="1.5" ry="1.8" stroke-width="1.5" fill="#000"/>
<ellipse cx="777.5" cy="1143.4" rx="1.6" ry="1.9" stroke-width="1.5" fill="#000"/>
<polyline points="656.8,1141 642.5,1149 642.5,1163.8 639,1163.8 639,1172.2 642.5,1171.2 642.5,1260.1 639,1260.1 639,1267.8 642.5,1267.2 643.2,1305.1 635.5,1317 635.5,1337.4 641.1,1341 657.3,1331.8" stroke-width="1.9"/>
<polyline points="635.8,1335.6 656.6,1326.2" stroke-width="1.6"/>
<polyline points="656.8,1141 656.8,1332.5" stroke-width="2.8"/>
<polyline points="656.8,1141 723.4,1179.2 723.4,1365.6 702.3,1376.8" stroke-width="2.2"/>
<polyline points="723.4,1179.2 710,1187.7 710,1202.4 705.1,1202.4 705.1,1210.2 710,1209.6 710,1245.3 721.3,1238.3" stroke-width="1.9"/>
<path d="M721.3,1287.5 L710.0,1295.2 L710.0,1299.6 L705.1,1299.6 L705.1,1307.2 L710.0,1306.6 L710.0,1340.9 C709.6,1345 708.6,1347.6 707.2,1349.4 L702.3,1353.6 L702.3,1376.8 L698.8,1374.7 L700.8,1372.0" stroke-width="1.9"/>
<polyline points="660.5,1269.2 710,1297.3" stroke-width="3.5" stroke-dasharray="3 0.9"/>
<polyline points="660.5,1269.2 660.5,1310 709.3,1338.1" stroke-width="2.1"/>
<polyline points="669.2,1276.2 669.2,1304.4 709.3,1326.9" stroke-width="1.9"/>
<polyline points="669.2,1276.2 710,1299.4" stroke-width="1.5"/>
<polyline points="660.5,1310 669.2,1304.4" stroke-width="1.6"/>
<polyline points="657.3,1332.5 702.3,1357.8" stroke-width="2"/>
<polyline points="658,1326.8 703,1352.2" stroke-width="1.6"/>
<polyline points="661.4,1324.6 663,1325.4 663,1328.8" stroke-width="1.5"/>
<ellipse cx="689.9" cy="1332.9" rx="0.9" ry="0.9" stroke-width="1.1" fill="#000"/>
<polyline points="84.4,828.3 217.5,904.9 219.8,909.4 233.7,917.4 239.7,917.7 359.5,986.6 362,991.1 381,1002 384.6,1001.1 518.4,1078.1" stroke-width="3"/>
<polyline points="86,831.8 216,906.6" stroke-width="1.2"/>
<polyline points="241,921 358,988.4" stroke-width="1.2"/>
<polyline points="386,1004.5 516,1079.3" stroke-width="1.2"/>
<path d="M84.4,828.3 C81.5,826 79.6,822.6 78.4,820.2 C76.6,816 75.6,812.4 73.4,810.4 L65.3,810.2 L67.6,813.2 L67.3,817.6 L64.6,816.8 L63.3,820.2 L61.3,870.7 C63.8,871.6 66.3,873 66.3,875.5 L66.3,879.2 C65.8,881.4 63.5,882.4 61.3,882.8 L61.3,946.3" stroke-width="1.5"/>
<ellipse cx="65.3" cy="895.9" rx="1.4" ry="1.9" stroke-width="1.4"/>
<path d="M518.4,1078.3 C521,1076.6 523.5,1075.2 525.7,1075.0 C530.5,1074.8 533.4,1076.4 534.9,1079.2 L536.2,1084.0 L533.2,1082.4 L532.4,1085.4 L536.2,1087.9 L540.4,1143.3 C537,1144 534.1,1145 534.1,1147.4 L534.1,1150.4 C535,1153.6 538.5,1155.6 540.4,1157.9 L540.4,1221.7" stroke-width="1.5"/>
<ellipse cx="536.2" cy="1168.4" rx="1.3" ry="1.9" stroke-width="1.4"/>
<path d="M77.3,830 L523,1087.9 C526.5,1089.7 527.8,1095.8 526.4,1101.6 L80.3,844.1 C76.3,840.5 74.2,834.3 77.3,830 Z" stroke-width="1.8"/>
<polyline points="78.4,837.2 525,1094.8" stroke-width="1.5"/>
<path d="M102.4,863.1 L167.9,900.8 C169.9,901.5 171.6,902.5 171.6,904.1 L171.6,908.3 C171.2,909.9 168.9,910.3 166.2,909.1 L107.4,875.1 C104,872.1 102.7,868.1 102.4,863.1 Z" stroke-width="1.9"/>
<polyline points="107,866.1 111,869.5 108.6,872.5" stroke-width="1.4"/>
<polyline points="111,869.5 167.2,901.8" stroke-width="1.4"/>
<polyline points="108.6,872.5 166.6,905.9" stroke-width="1.4"/>
<polyline points="168,901.7 168,908.5 171,908.1" stroke-width="1.4"/>
<path d="M102.4,878.2 L167.9,915.9 C169.9,916.6 171.6,917.6 171.6,919.2 L171.6,923.4 C171.2,925 168.9,925.4 166.2,924.2 L107.4,890.2 C104,887.2 102.7,883.2 102.4,878.2 Z" stroke-width="1.9"/>
<polyline points="107,881.2 111,884.6 108.6,887.6" stroke-width="1.4"/>
<polyline points="111,884.6 167.2,916.9" stroke-width="1.4"/>
<polyline points="108.6,887.6 166.6,921" stroke-width="1.4"/>
<polyline points="168,916.8 168,923.6 171,923.2" stroke-width="1.4"/>
<path d="M102.4,893.3 L167.9,931 C169.9,931.7 171.6,932.7 171.6,934.3 L171.6,938.5 C171.2,940.1 168.9,940.5 166.2,939.3 L107.4,905.3 C104,902.3 102.7,898.3 102.4,893.3 Z" stroke-width="1.9"/>
<polyline points="107,896.3 111,899.7 108.6,902.7" stroke-width="1.4"/>
<polyline points="111,899.7 167.2,932" stroke-width="1.4"/>
<polyline points="108.6,902.7 166.6,936.1" stroke-width="1.4"/>
<polyline points="168,931.9 168,938.7 171,938.3" stroke-width="1.4"/>
<path d="M102.4,908.4 L167.9,946.1 C169.9,946.8 171.6,947.8 171.6,949.4 L171.6,953.6 C171.2,955.2 168.9,955.6 166.2,954.4 L107.4,920.4 C104,917.4 102.7,913.4 102.4,908.4 Z" stroke-width="1.9"/>
<polyline points="107,911.4 111,914.8 108.6,917.8" stroke-width="1.4"/>
<polyline points="111,914.8 167.2,947.1" stroke-width="1.4"/>
<polyline points="108.6,917.8 166.6,951.2" stroke-width="1.4"/>
<polyline points="168,947 168,953.8 171,953.4" stroke-width="1.4"/>
<path d="M200.4,920.6 L265.9,958.3 C267.9,959 269.6,960 269.6,961.6 L269.6,965.8 C269.2,967.4 266.9,967.8 264.2,966.6 L205.4,932.6 C202,929.6 200.7,925.6 200.4,920.6 Z" stroke-width="1.9"/>
<polyline points="205,923.6 209,927 206.6,930" stroke-width="1.4"/>
<polyline points="209,927 265.2,959.3" stroke-width="1.4"/>
<polyline points="206.6,930 264.6,963.4" stroke-width="1.4"/>
<polyline points="266,959.2 266,966 269,965.6" stroke-width="1.4"/>
<path d="M200.4,935.7 L265.9,973.4 C267.9,974.1 269.6,975.1 269.6,976.7 L269.6,980.9 C269.2,982.5 266.9,982.9 264.2,981.7 L205.4,947.7 C202,944.7 200.7,940.7 200.4,935.7 Z" stroke-width="1.9"/>
<polyline points="205,938.7 209,942.1 206.6,945.1" stroke-width="1.4"/>
<polyline points="209,942.1 265.2,974.4" stroke-width="1.4"/>
<polyline points="206.6,945.1 264.6,978.5" stroke-width="1.4"/>
<polyline points="266,974.3 266,981.1 269,980.7" stroke-width="1.4"/>
<path d="M200.4,950.8 L265.9,988.5 C267.9,989.2 269.6,990.2 269.6,991.8 L269.6,996 C269.2,997.6 266.9,998 264.2,996.8 L205.4,962.8 C202,959.8 200.7,955.8 200.4,950.8 Z" stroke-width="1.9"/>
<polyline points="205,953.8 209,957.2 206.6,960.2" stroke-width="1.4"/>
<polyline points="209,957.2 265.2,989.5" stroke-width="1.4"/>
<polyline points="206.6,960.2 264.6,993.6" stroke-width="1.4"/>
<polyline points="266,989.4 266,996.2 269,995.8" stroke-width="1.4"/>
<path d="M200.4,965.9 L265.9,1003.6 C267.9,1004.3 269.6,1005.3 269.6,1006.9 L269.6,1011.1 C269.2,1012.7 266.9,1013.1 264.2,1011.9 L205.4,977.9 C202,974.9 200.7,970.9 200.4,965.9 Z" stroke-width="1.9"/>
<polyline points="205,968.9 209,972.3 206.6,975.3" stroke-width="1.4"/>
<polyline points="209,972.3 265.2,1004.6" stroke-width="1.4"/>
<polyline points="206.6,975.3 264.6,1008.7" stroke-width="1.4"/>
<polyline points="266,1004.5 266,1011.3 269,1010.9" stroke-width="1.4"/>
<path d="M331,995.6 L396.5,1033.3 C398.5,1034 400.2,1035 400.2,1036.6 L400.2,1040.8 C399.8,1042.4 397.5,1042.8 394.8,1041.6 L336,1007.6 C332.6,1004.6 331.3,1000.6 331,995.6 Z" stroke-width="1.9"/>
<polyline points="335.6,998.6 339.6,1002 337.2,1005" stroke-width="1.4"/>
<polyline points="339.6,1002 395.8,1034.3" stroke-width="1.4"/>
<polyline points="337.2,1005 395.2,1038.4" stroke-width="1.4"/>
<polyline points="396.6,1034.2 396.6,1041 399.6,1040.6" stroke-width="1.4"/>
<path d="M331,1010.7 L396.5,1048.4 C398.5,1049.1 400.2,1050.1 400.2,1051.7 L400.2,1055.9 C399.8,1057.5 397.5,1057.9 394.8,1056.7 L336,1022.7 C332.6,1019.7 331.3,1015.7 331,1010.7 Z" stroke-width="1.9"/>
<polyline points="335.6,1013.7 339.6,1017.1 337.2,1020.1" stroke-width="1.4"/>
<polyline points="339.6,1017.1 395.8,1049.4" stroke-width="1.4"/>
<polyline points="337.2,1020.1 395.2,1053.5" stroke-width="1.4"/>
<polyline points="396.6,1049.3 396.6,1056.1 399.6,1055.7" stroke-width="1.4"/>
<path d="M331,1025.8 L396.5,1063.5 C398.5,1064.2 400.2,1065.2 400.2,1066.8 L400.2,1071 C399.8,1072.6 397.5,1073 394.8,1071.8 L336,1037.8 C332.6,1034.8 331.3,1030.8 331,1025.8 Z" stroke-width="1.9"/>
<polyline points="335.6,1028.8 339.6,1032.2 337.2,1035.2" stroke-width="1.4"/>
<polyline points="339.6,1032.2 395.8,1064.5" stroke-width="1.4"/>
<polyline points="337.2,1035.2 395.2,1068.6" stroke-width="1.4"/>
<polyline points="396.6,1064.4 396.6,1071.2 399.6,1070.8" stroke-width="1.4"/>
<path d="M331,1040.9 L396.5,1078.6 C398.5,1079.3 400.2,1080.3 400.2,1081.9 L400.2,1086.1 C399.8,1087.7 397.5,1088.1 394.8,1086.9 L336,1052.9 C332.6,1049.9 331.3,1045.9 331,1040.9 Z" stroke-width="1.9"/>
<polyline points="335.6,1043.9 339.6,1047.3 337.2,1050.3" stroke-width="1.4"/>
<polyline points="339.6,1047.3 395.8,1079.6" stroke-width="1.4"/>
<polyline points="337.2,1050.3 395.2,1083.7" stroke-width="1.4"/>
<polyline points="396.6,1079.5 396.6,1086.3 399.6,1085.9" stroke-width="1.4"/>
<path d="M429.4,1052.6 L494.9,1090.3 C496.9,1091 498.6,1092 498.6,1093.6 L498.6,1097.8 C498.2,1099.4 495.9,1099.8 493.2,1098.6 L434.4,1064.6 C431,1061.6 429.7,1057.6 429.4,1052.6 Z" stroke-width="1.9"/>
<polyline points="434,1055.6 438,1059 435.6,1062" stroke-width="1.4"/>
<polyline points="438,1059 494.2,1091.3" stroke-width="1.4"/>
<polyline points="435.6,1062 493.6,1095.4" stroke-width="1.4"/>
<polyline points="495,1091.2 495,1098 498,1097.6" stroke-width="1.4"/>
<path d="M429.4,1067.7 L494.9,1105.4 C496.9,1106.1 498.6,1107.1 498.6,1108.7 L498.6,1112.9 C498.2,1114.5 495.9,1114.9 493.2,1113.7 L434.4,1079.7 C431,1076.7 429.7,1072.7 429.4,1067.7 Z" stroke-width="1.9"/>
<polyline points="434,1070.7 438,1074.1 435.6,1077.1" stroke-width="1.4"/>
<polyline points="438,1074.1 494.2,1106.4" stroke-width="1.4"/>
<polyline points="435.6,1077.1 493.6,1110.5" stroke-width="1.4"/>
<polyline points="495,1106.3 495,1113.1 498,1112.7" stroke-width="1.4"/>
<path d="M429.4,1082.8 L494.9,1120.5 C496.9,1121.2 498.6,1122.2 498.6,1123.8 L498.6,1128 C498.2,1129.6 495.9,1130 493.2,1128.8 L434.4,1094.8 C431,1091.8 429.7,1087.8 429.4,1082.8 Z" stroke-width="1.9"/>
<polyline points="434,1085.8 438,1089.2 435.6,1092.2" stroke-width="1.4"/>
<polyline points="438,1089.2 494.2,1121.5" stroke-width="1.4"/>
<polyline points="435.6,1092.2 493.6,1125.6" stroke-width="1.4"/>
<polyline points="495,1121.4 495,1128.2 498,1127.8" stroke-width="1.4"/>
<path d="M429.4,1097.9 L494.9,1135.6 C496.9,1136.3 498.6,1137.3 498.6,1138.9 L498.6,1143.1 C498.2,1144.7 495.9,1145.1 493.2,1143.9 L434.4,1109.9 C431,1106.9 429.7,1102.9 429.4,1097.9 Z" stroke-width="1.9"/>
<polyline points="434,1100.9 438,1104.3 435.6,1107.3" stroke-width="1.4"/>
<polyline points="438,1104.3 494.2,1136.6" stroke-width="1.4"/>
<polyline points="435.6,1107.3 493.6,1140.7" stroke-width="1.4"/>
<polyline points="495,1136.5 495,1143.3 498,1142.9" stroke-width="1.4"/>
<polyline points="101,944.2 497.5,1171.6" stroke-width="1.6"/>
<polyline points="101,942.8 497.5,1170.2" stroke-width="2" stroke-dasharray="1.4 1.6"/>
<polyline points="100,940.7 498,1168.9" stroke-width="1.5"/>
<path d="M102.6,942.4 C94,937.5 83.4,941 83.4,952 L83.4,1104.6 C83.4,1116 90,1125 102.1,1131.8" stroke-width="1.5"/>
<path d="M103.1,944.8 C96.5,940.6 88.5,945.1 88.5,953.5 L88.5,1101.5 C88.5,1111.4 94.6,1120.4 104.1,1127.3" stroke-width="1.5"/>
<path d="M103.8,948.1 C100,944.8 95.5,950.7 95.5,955.6 L95.5,1097.3 C95.5,1105.1 100.9,1114.1 106.9,1121" stroke-width="1.5"/>
<polyline points="83.4,952 95.5,955" stroke-width="1.1"/>
<polyline points="83.4,1104.6 95.5,1097.4" stroke-width="1.1"/>
<polyline points="102.1,1131.8 501.2,1361.5" stroke-width="1.5"/>
<polyline points="103.7,1128.2 499.8,1356.2" stroke-width="1.2"/>
<polyline points="105.3,1124.7 498.5,1350.9" stroke-width="1.2"/>
<polyline points="107,1121.1 497.1,1345.7" stroke-width="1.5"/>
<path d="M497.5,1170.8 C507,1177.8 514.8,1186 514.8,1197 L514.8,1350" stroke-width="1.6"/>
<path d="M498.0,1168.9 C509,1176.2 517.9,1184 517.9,1196 L517.9,1353.6 C517.9,1360 512,1366.4 501.2,1361.5" stroke-width="1.9"/>
<path d="M514.8,1350 C514.8,1356 510,1361 502.6,1357.8" stroke-width="1.2"/>
<path d="M514.8,1346 C514.4,1352 509,1357 504,1354.1" stroke-width="1.2"/>
<polyline points="505.2,1350.3 514.8,1346.5" stroke-width="1.2"/>
<path d="M251.7,1180 L251.7,1064 C251.7,1052 256,1045.5 264,1043.6 L340.6,1089.1 C352,1097.1 359.0,1103 359.0,1116 L359.0,1241.6 C359.0,1251 354,1257 344.8,1252.3 L270.5,1209.2 C259,1198.5 251.7,1191 251.7,1180 Z" stroke-width="1.9"/>
<path d="M256.9,1179 L256.9,1066 C256.9,1057 260,1052 266,1050.4" stroke-width="1.4"/>
<path d="M256.9,1179 C256.9,1188 262,1196 272.0,1206.6 L343.0,1247.9 C351,1252.9 357.0,1250 357.2,1241.6 L357.2,1116 C357.2,1104 351,1099.4 341.5,1091.8" stroke-width="1.4"/>
<polyline points="262,1049 264,1056" stroke-width="1.1"/>
<path d="M110.2,1037.9 C107.2,1036.2 107,1041.4 111,1045.4" stroke-width="1.9"/>
<polyline points="110.2,1037.9 249.1,1119.2" stroke-width="1.9"/>
<polyline points="110.2,1040.8 250.5,1123.1" stroke-width="1.6"/>
<polyline points="111,1045.4 249.7,1126.5" stroke-width="1.9"/>
<path d="M171.2,995.7 C171.4,992.1 177.1,992.3 178.5,997.3 L178.5,1152.2 C178.1,1156.2 172.6,1155.4 171.2,1149.8 Z" stroke-width="1.9" fill="#fff"/>
<polyline points="174.3,994.7 174.3,1152.8" stroke-width="1.7"/>
<path d="M500.1,1263.9 C503.3,1266 503.5,1271.4 500.7,1271.2" stroke-width="1.9"/>
<polyline points="361,1182.5 500.1,1263.9" stroke-width="1.9"/>
<polyline points="361,1185.4 501.5,1267.8" stroke-width="1.6"/>
<polyline points="361.8,1190 500.7,1271.2" stroke-width="1.9"/>
<path d="M431.6,1146.3 C431.8,1142.7 437.5,1142.9 438.9,1147.9 L438.9,1304.9 C438.5,1308.9 433,1308.1 431.6,1302.5 Z" stroke-width="1.9" fill="#fff"/>
<polyline points="434.7,1145.3 434.7,1305.5" stroke-width="1.7"/>
<ellipse cx="174.8" cy="1077.4" rx="2.4" ry="2" stroke-width="1.1"/>
<ellipse cx="435.2" cy="1227.8" rx="2.4" ry="2" stroke-width="1.1"/>
<path d="M76.4,957.4 L58.2,947.3 L58.2,1023.9 C62,1024.6 67.3,1025.6 67.3,1029 L67.3,1033.4 C66.6,1036 62,1036.6 58.2,1037.0 L59.3,1128.7 L71.8,1137.1" stroke-width="1.5"/>
<polyline points="72.3,955.4 72.3,1138" stroke-width="2.2"/>
<polyline points="75.4,957 75.4,1141" stroke-width="1.2"/>
<polyline points="72.3,955.4 77.2,958.2 77.2,961" stroke-width="1.8"/>
<ellipse cx="63.9" cy="957" rx="1.4" ry="1.9" stroke-width="1.4"/>
<ellipse cx="63.9" cy="1121.7" rx="1.4" ry="1.9" stroke-width="1.4"/>
<ellipse cx="63.9" cy="1001" rx="0.6" ry="0.6" stroke-width="1"/>
<polyline points="72.9,1143.3 526.3,1403.8" stroke-width="3.2"/>
<polyline points="74,1141 527,1401.4" stroke-width="1.1"/>
<path d="M72.9,1143.3 L46.7,1168.4 C46.5,1170.4 48,1171.4 49.8,1171.6 L73.9,1171.6 L82.3,1174.7" stroke-width="1.5"/>
<polyline points="82.3,1174.7 216.1,1252.1" stroke-width="1.4"/>
<polyline points="81.2,1177.6 215.6,1255.2" stroke-width="1.4"/>
<polyline points="81.2,1181 215.1,1258.3 219.3,1258.3 230.8,1248.9 231.8,1244.7" stroke-width="1.5"/>
<polyline points="82.3,1172.4 81.2,1181" stroke-width="1.8"/>
<polyline points="216.1,1252.1 219,1253 219.3,1258.3" stroke-width="1.2"/>
<polyline points="219,1253 229.4,1245" stroke-width="1.2"/>
<polyline points="231.8,1244.7 233.9,1247.9 345.4,1311.7 350.6,1312.8" stroke-width="1.5"/>
<polyline points="233.9,1247.9 237,1255.2 340.6,1314.6" stroke-width="1.5"/>
<polyline points="236,1252.2 341,1312" stroke-width="1.2" stroke-dasharray="7 1"/>
<polyline points="345.4,1311.7 335,1320.1 335,1326.4 468.8,1404.8" stroke-width="1.5"/>
<polyline points="335,1320.1 468.8,1398.5 471.9,1399.6" stroke-width="1.5"/>
<polyline points="336,1323.4 469.4,1401.6" stroke-width="1.2"/>
<path d="M468.8,1404.8 L468.8,1398.5 L471.9,1399.6 C475,1401.6 477.2,1403.4 477.2,1405.8 L477.2,1416.3 C478.5,1419 481,1420.4 483.4,1420.5 L526.3,1404.8" stroke-width="1.6"/>
<polyline points="524.2,1216.6 547.2,1230.2" stroke-width="1.8"/>
<path d="M547.2,1230.2 L547.2,1299.2 C543,1299.8 538.8,1301 538.8,1304 L538.8,1309 C539.6,1312.4 544,1314.6 547.2,1317.0 L547.2,1410.0 L528.4,1404.8" stroke-width="1.6"/>
<polyline points="528.4,1219.4 528.4,1404.8" stroke-width="2"/>
<polyline points="532.6,1221.6 532.6,1405.8" stroke-width="1.2"/>
<polyline points="534.7,1222.8 534.7,1406.4" stroke-width="1.2"/>
<polyline points="525,1215.4 530,1218" stroke-width="2.8"/>
<ellipse cx="542.4" cy="1232.7" rx="1.5" ry="2" stroke-width="1.4"/>
<ellipse cx="542.4" cy="1399.2" rx="1.5" ry="2" stroke-width="1.4"/>
<polyline points="960.8,261.4 945.2,270.6" stroke-width="2.2"/>
<path d="M977.8,249 L966.1,254.7 C962.8,256.6 960.8,259.3 961.4,261.1 C962.4,262.7 965.8,262.8 969.3,261.4 L981,255.7 Z" stroke-width="1.6" fill="#fff"/>
<path d="M965.7,254.9 Q969.1,257.3 969,261.5" stroke-width="1.3"/>
<path d="M968.9,253.3 Q972,255.9 971.4,260.3" stroke-width="1.5"/>
<path d="M971.3,252.2 Q974.4,254.7 973.8,259.2" stroke-width="1.5"/>
<path d="M973.7,251 Q976.9,253.6 976.2,258" stroke-width="1.5"/>
<path d="M976.1,249.8 Q979.3,252.4 978.7,256.8" stroke-width="1.5"/>
<polygon points="979.4,245.6 987.1,241.9 992.3,252.7 984.7,256.4" stroke-width="1.6" fill="#fff"/>
<ellipse cx="989.7" cy="247.3" rx="2.3" ry="6" stroke-width="1.6" fill="#fff" transform="rotate(-26 989.7 247.3)"/>
<polyline points="981.1,249 990,244.7" stroke-width="1.3"/>
<polyline points="983.2,253.4 991.9,249.1" stroke-width="1.3"/>
<ellipse cx="982.4" cy="250.8" rx="2.9" ry="7.9" stroke-width="1.6" fill="#fff" transform="rotate(-26 982.4 250.8)"/>
<ellipse cx="980.6" cy="251.7" rx="2.9" ry="7.9" stroke-width="1.6" fill="#fff" transform="rotate(-26 980.6 251.7)"/>
<polyline points="1038.5,297.4 1022.6,306" stroke-width="2"/>
<path d="M1055.9,285.3 L1044.1,290.8 C1040.8,292.7 1038.7,295.3 1039.3,297.1 C1040.3,298.7 1043.6,298.8 1047.2,297.5 L1059,292 Z" stroke-width="1.6" fill="#fff"/>
<path d="M1043.7,291 Q1047.1,293.5 1046.8,297.7" stroke-width="1.3"/>
<path d="M1046.9,289.5 Q1050,292.1 1049.3,296.5" stroke-width="1.5"/>
<path d="M1049.3,288.3 Q1052.4,291 1051.7,295.4" stroke-width="1.5"/>
<path d="M1051.8,287.2 Q1054.9,289.8 1054.2,294.2" stroke-width="1.5"/>
<path d="M1054.2,286.1 Q1057.3,288.7 1056.6,293.1" stroke-width="1.5"/>
<polygon points="1057.6,281.9 1065.3,278.3 1070.4,289.2 1062.7,292.8" stroke-width="1.6" fill="#fff"/>
<ellipse cx="1067.8" cy="283.8" rx="2.3" ry="6" stroke-width="1.6" fill="#fff" transform="rotate(-25 1067.8 283.8)"/>
<polyline points="1059.2,285.4 1068.2,281.2" stroke-width="1.3"/>
<polyline points="1061.2,289.7 1070,285.6" stroke-width="1.3"/>
<ellipse cx="1060.5" cy="287.2" rx="2.9" ry="7.9" stroke-width="1.6" fill="#fff" transform="rotate(-25 1060.5 287.2)"/>
<ellipse cx="1058.7" cy="288.1" rx="2.9" ry="7.9" stroke-width="1.6" fill="#fff" transform="rotate(-25 1058.7 288.1)"/>
<polyline points="1022.6,305.3 1041.8,316.2" stroke-width="1.9"/>
<polyline points="1045.8,318.8 1051.9,322.3" stroke-width="1.9"/>
<polyline points="1055.9,324.6 1075.3,335.6 1066.3,341" stroke-width="1.9"/>
<path d="M894.5,365.1 L883.5,369.8 C880.4,371.4 878.4,373.8 878.9,375.4 C879.7,376.9 882.8,377.1 886.2,376 L897.2,371.3 Z" stroke-width="1.6" fill="#fff"/>
<path d="M883.2,369.9 Q886.2,372.3 885.8,376.2" stroke-width="1.3"/>
<path d="M886.1,368.6 Q888.9,371.2 888.1,375.2" stroke-width="1.5"/>
<path d="M888.4,367.7 Q891.2,370.2 890.4,374.2" stroke-width="1.5"/>
<path d="M890.7,366.7 Q893.5,369.2 892.7,373.2" stroke-width="1.5"/>
<path d="M893,365.7 Q895.8,368.2 895,372.3" stroke-width="1.5"/>
<polygon points="896.2,362.1 903.4,359 907.7,369.2 900.5,372.2" stroke-width="1.6" fill="#fff"/>
<ellipse cx="905.6" cy="364.1" rx="2.1" ry="5.5" stroke-width="1.6" fill="#fff" transform="rotate(-23 905.6 364.1)"/>
<polyline points="897.6,365.3 906,361.7" stroke-width="1.3"/>
<polyline points="899.3,369.3 907.5,365.8" stroke-width="1.3"/>
<ellipse cx="898.7" cy="367" rx="2.7" ry="7.3" stroke-width="1.6" fill="#fff" transform="rotate(-23 898.7 367)"/>
<ellipse cx="897" cy="367.7" rx="2.7" ry="7.3" stroke-width="1.6" fill="#fff" transform="rotate(-23 897 367.7)"/>
<polyline points="978.4,518.3 971.3,524.3" stroke-width="2"/>
<path d="M995.7,506.7 L983.7,511.8 C980.3,513.5 978.2,516.1 978.7,517.9 C979.6,519.5 983,519.8 986.6,518.6 L998.6,513.5 Z" stroke-width="1.6" fill="#fff"/>
<path d="M983.3,511.9 Q986.6,514.5 986.2,518.7" stroke-width="1.3"/>
<path d="M986.6,510.5 Q989.6,513.3 988.7,517.7" stroke-width="1.5"/>
<path d="M989,509.5 Q992,512.2 991.2,516.6" stroke-width="1.5"/>
<path d="M991.5,508.4 Q994.5,511.2 993.7,515.6" stroke-width="1.5"/>
<path d="M994,507.4 Q997,510.1 996.2,514.5" stroke-width="1.5"/>
<polygon points="997.5,503.4 1005.4,500.1 1010,511.1 1002.2,514.4" stroke-width="1.6" fill="#fff"/>
<ellipse cx="1007.7" cy="505.6" rx="2.3" ry="6" stroke-width="1.6" fill="#fff" transform="rotate(-23 1007.7 505.6)"/>
<polyline points="999,506.9 1008.1,503" stroke-width="1.3"/>
<polyline points="1000.9,511.3 1009.8,507.5" stroke-width="1.3"/>
<ellipse cx="1000.2" cy="508.8" rx="2.9" ry="7.9" stroke-width="1.6" fill="#fff" transform="rotate(-23 1000.2 508.8)"/>
<ellipse cx="998.4" cy="509.5" rx="2.9" ry="7.9" stroke-width="1.6" fill="#fff" transform="rotate(-23 998.4 509.5)"/>
<polygon points="852.1,514.6 846.1,518.1 843.8,514.1 849.9,510.6" stroke-width="1.6" fill="#fff"/>
<ellipse cx="851" cy="512.6" rx="1.2" ry="2.3" stroke-width="1.6" fill="#fff" transform="rotate(150 851 512.6)"/>
<polyline points="849.7,516 847.9,511.7" stroke-width="1.3"/>
<polyline points="847.8,517.1 846,512.8" stroke-width="1.3"/>
<ellipse cx="843.9" cy="516.7" rx="2.4" ry="5" stroke-width="1.6" fill="#fff" transform="rotate(150 843.9 516.7)"/>
<ellipse cx="842.2" cy="517.7" rx="2.4" ry="5" stroke-width="1.6" fill="#fff" transform="rotate(150 842.2 517.7)"/>
<path d="M164.7,712.6 L164.7,699.6 C164.4,695.8 162.8,692.8 161,692.6 C159.2,692.8 157.6,695.8 157.3,699.6 L157.3,712.6 Z" stroke-width="1.6" fill="#fff"/>
<path d="M164.7,699.2 Q161,701.2 157.3,699.2" stroke-width="1.3"/>
<path d="M164.7,702.7 Q161,704.4 157.3,701.9" stroke-width="1.5"/>
<path d="M164.7,705.4 Q161,707.1 157.3,704.6" stroke-width="1.5"/>
<path d="M164.7,708.1 Q161,709.8 157.3,707.3" stroke-width="1.5"/>
<path d="M164.7,710.8 Q161,712.5 157.3,710" stroke-width="1.5"/>
<polygon points="167,715.6 167,724.1 155,724.1 155,715.6" stroke-width="1.6" fill="#fff"/>
<ellipse cx="161" cy="724.1" rx="2.3" ry="6" stroke-width="1.6" fill="#fff" transform="rotate(90 161 724.1)"/>
<polyline points="163.2,715.6 163.2,725.5" stroke-width="1.3"/>
<polyline points="158.4,715.6 158.4,725.3" stroke-width="1.3"/>
<ellipse cx="161" cy="716" rx="2.9" ry="7.9" stroke-width="1.6" fill="#fff" transform="rotate(90 161 716)"/>
<ellipse cx="161" cy="714" rx="2.9" ry="7.9" stroke-width="1.6" fill="#fff" transform="rotate(90 161 714)"/>
<path d="M583.2,970 L594.1,974.8 C597.5,975.9 600.6,975.7 601.4,974.2 C601.9,972.6 599.9,970.2 596.9,968.5 L585.9,963.7 Z" stroke-width="1.6" fill="#fff"/>
<path d="M594.5,974.9 Q594.1,971 597.2,968.7" stroke-width="1.3"/>
<path d="M591.5,973.6 Q591.4,969.9 594.9,967.7" stroke-width="1.5"/>
<path d="M589.2,972.6 Q589.2,968.9 592.6,966.7" stroke-width="1.5"/>
<path d="M587,971.6 Q586.9,967.9 590.4,965.7" stroke-width="1.5"/>
<path d="M584.7,970.6 Q584.6,966.9 588.1,964.7" stroke-width="1.5"/>
<polygon points="579.8,970.8 572.6,967.7 577,957.6 584.2,960.7" stroke-width="1.6" fill="#fff"/>
<ellipse cx="574.8" cy="962.6" rx="2.1" ry="5.5" stroke-width="1.6" fill="#fff" transform="rotate(203.5 574.8 962.6)"/>
<polyline points="581.2,967.6 572.8,964" stroke-width="1.3"/>
<polyline points="582.9,963.6 574.8,960" stroke-width="1.3"/>
<ellipse cx="581.7" cy="965.6" rx="2.7" ry="7.3" stroke-width="1.6" fill="#fff" transform="rotate(203.5 581.7 965.6)"/>
<ellipse cx="583.3" cy="966.3" rx="2.7" ry="7.3" stroke-width="1.6" fill="#fff" transform="rotate(203.5 583.3 966.3)"/>
<path d="M686.4,1066.4 L686.4,1054.4 C686.1,1050.9 684.7,1048.2 683,1048 C681.3,1048.2 679.9,1050.9 679.6,1054.4 L679.6,1066.4 Z" stroke-width="1.6" fill="#fff"/>
<path d="M686.4,1054.1 Q683,1055.9 679.6,1054.1" stroke-width="1.3"/>
<path d="M686.4,1057.3 Q683,1058.9 679.6,1056.6" stroke-width="1.5"/>
<path d="M686.4,1059.8 Q683,1061.3 679.6,1059" stroke-width="1.5"/>
<path d="M686.4,1062.3 Q683,1063.8 679.6,1061.5" stroke-width="1.5"/>
<path d="M686.4,1064.7 Q683,1066.3 679.6,1064" stroke-width="1.5"/>
<polygon points="688.5,1069.2 688.5,1077 677.5,1077 677.5,1069.2" stroke-width="1.6" fill="#fff"/>
<ellipse cx="683" cy="1077" rx="2.1" ry="5.5" stroke-width="1.6" fill="#fff" transform="rotate(90 683 1077)"/>
<polyline points="685,1069.2 685,1078.3" stroke-width="1.3"/>
<polyline points="680.6,1069.2 680.6,1078.1" stroke-width="1.3"/>
<ellipse cx="683" cy="1069.5" rx="2.7" ry="7.3" stroke-width="1.6" fill="#fff" transform="rotate(90 683 1069.5)"/>
<ellipse cx="683" cy="1067.7" rx="2.7" ry="7.3" stroke-width="1.6" fill="#fff" transform="rotate(90 683 1067.7)"/>
<polyline points="740.9,1328.3 727.6,1336.7" stroke-width="2"/>
<path d="M763.7,1311.3 L752,1317 C748.7,1318.9 746.7,1321.6 747.3,1323.4 C748.3,1325 751.7,1325.1 755.2,1323.7 L766.9,1318 Z" stroke-width="1.6" fill="#fff"/>
<path d="M751.6,1317.2 Q755,1319.6 754.9,1323.8" stroke-width="1.3"/>
<path d="M754.8,1315.6 Q757.9,1318.2 757.3,1322.6" stroke-width="1.5"/>
<path d="M757.2,1314.5 Q760.3,1317 759.7,1321.5" stroke-width="1.5"/>
<path d="M759.6,1313.3 Q762.8,1315.9 762.1,1320.3" stroke-width="1.5"/>
<path d="M762,1312.1 Q765.2,1314.7 764.6,1319.1" stroke-width="1.5"/>
<polygon points="765.3,1307.9 773,1304.2 778.2,1315 770.6,1318.7" stroke-width="1.6" fill="#fff"/>
<ellipse cx="775.6" cy="1309.6" rx="2.3" ry="6" stroke-width="1.6" fill="#fff" transform="rotate(-26 775.6 1309.6)"/>
<polyline points="767,1311.3 775.9,1307" stroke-width="1.3"/>
<polyline points="769.1,1315.7 777.8,1311.4" stroke-width="1.3"/>
<ellipse cx="768.3" cy="1313.1" rx="2.9" ry="7.9" stroke-width="1.6" fill="#fff" transform="rotate(-26 768.3 1313.1)"/>
<ellipse cx="766.5" cy="1314" rx="2.9" ry="7.9" stroke-width="1.6" fill="#fff" transform="rotate(-26 766.5 1314)"/>
<polyline points="564.3,1226 552.7,1232.7" stroke-width="2"/>
<path d="M584,1208.5 L573.3,1214.6 C570.3,1216.7 568.6,1219.4 569.3,1221 C570.3,1222.4 573.5,1222.3 576.8,1220.7 L587.5,1214.5 Z" stroke-width="1.6" fill="#fff"/>
<path d="M573,1214.8 Q576.4,1216.9 576.5,1220.9" stroke-width="1.3"/>
<path d="M575.9,1213.2 Q579,1215.4 578.7,1219.6" stroke-width="1.5"/>
<path d="M578.1,1211.9 Q581.2,1214.1 580.9,1218.3" stroke-width="1.5"/>
<path d="M580.3,1210.6 Q583.5,1212.8 583.2,1217.1" stroke-width="1.5"/>
<path d="M582.5,1209.3 Q585.7,1211.5 585.4,1215.8" stroke-width="1.5"/>
<polygon points="585.4,1205.1 592.4,1201.1 598.1,1211 591.1,1215" stroke-width="1.6" fill="#fff"/>
<ellipse cx="595.2" cy="1206" rx="2.2" ry="5.7" stroke-width="1.6" fill="#fff" transform="rotate(-30 595.2 1206)"/>
<polyline points="587.2,1208.3 595.3,1203.6" stroke-width="1.3"/>
<polyline points="589.5,1212.2 597.4,1207.6" stroke-width="1.3"/>
<ellipse cx="588.6" cy="1209.9" rx="2.8" ry="7.5" stroke-width="1.6" fill="#fff" transform="rotate(-30 588.6 1209.9)"/>
<ellipse cx="586.9" cy="1210.8" rx="2.8" ry="7.5" stroke-width="1.6" fill="#fff" transform="rotate(-30 586.9 1210.8)"/>
<line x1="1088" y1="238.5" x2="1014.3" y2="247.3" stroke-width="2" stroke-linecap="butt"/>
<line x1="1035.2" y1="244.8" x2="1014.3" y2="247.3" stroke-width="2.9" stroke-linecap="butt"/>
<polygon class="ah" points="991.5,250 1014.8,242.9 1015.8,251.4"/>
<line x1="1084" y1="247" x2="1079" y2="255.6" stroke-width="2" stroke-linecap="butt"/>
<line x1="1083" y1="248.7" x2="1079" y2="255.6" stroke-width="2.9" stroke-linecap="butt"/>
<polygon class="ah" points="1067.5,275.5 1075.8,252.6 1083.2,256.9"/>
<line x1="822" y1="294" x2="875.2" y2="341.9" stroke-width="2" stroke-linecap="butt"/>
<line x1="859.6" y1="327.9" x2="875.2" y2="341.9" stroke-width="2.9" stroke-linecap="butt"/>
<polygon class="ah" points="892.3,357.3 871.6,344.4 877.3,338"/>
<line x1="734" y1="304.5" x2="747.4" y2="310.3" stroke-width="2" stroke-linecap="butt"/>
<line x1="735.8" y1="305.3" x2="747.4" y2="310.3" stroke-width="2.9" stroke-linecap="butt"/>
<polygon class="ah" points="768.5,319.5 744.8,313.9 748.2,306"/>
<line x1="572" y1="313.5" x2="632.8" y2="329.6" stroke-width="2" stroke-linecap="butt"/>
<line x1="612.5" y1="324.2" x2="632.8" y2="329.6" stroke-width="2.9" stroke-linecap="butt"/>
<polygon class="ah" points="655,335.5 630.7,333.5 632.9,325.2"/>
<line x1="1004.2" y1="468.5" x2="981.6" y2="449.6" stroke-width="2" stroke-linecap="butt"/>
<line x1="997.7" y1="463.1" x2="981.6" y2="449.6" stroke-width="2.9" stroke-linecap="butt"/>
<polygon class="ah" points="964,434.8 985.2,446.9 979.6,453.5"/>
<line x1="1077.5" y1="470.5" x2="1040.6" y2="452.9" stroke-width="2" stroke-linecap="butt"/>
<line x1="1059.5" y1="461.9" x2="1040.6" y2="452.9" stroke-width="2.9" stroke-linecap="butt"/>
<polygon class="ah" points="1019.8,443 1043.3,449.4 1039.6,457.2"/>
<line x1="1067" y1="517" x2="1011.3" y2="494.2" stroke-width="2" stroke-linecap="butt"/>
<line x1="1030.7" y1="502.2" x2="1011.3" y2="494.2" stroke-width="2.9" stroke-linecap="butt"/>
<polygon class="ah" points="990,485.5 1013.8,490.6 1010.6,498.6"/>
<line x1="1075" y1="549.5" x2="1032.1" y2="526.9" stroke-width="2" stroke-linecap="butt"/>
<line x1="1050.7" y1="536.7" x2="1032.1" y2="526.9" stroke-width="2.9" stroke-linecap="butt"/>
<polygon class="ah" points="1011.8,516.2 1035,523.6 1031,531.2"/>
<line x1="935.2" y1="572.1" x2="890.3" y2="562.2" stroke-width="2" stroke-linecap="butt"/>
<line x1="910.8" y1="566.7" x2="890.3" y2="562.2" stroke-width="2.9" stroke-linecap="butt"/>
<polygon class="ah" points="867.8,557.3 892.2,558.2 890.3,566.6"/>
<line x1="800.5" y1="497" x2="815.7" y2="504.2" stroke-width="2" stroke-linecap="butt"/>
<line x1="802.3" y1="497.9" x2="815.7" y2="504.2" stroke-width="2.9" stroke-linecap="butt"/>
<polygon class="ah" points="836.5,514 813,507.6 816.6,499.9"/>
<line x1="526" y1="347" x2="558.2" y2="377.3" stroke-width="2" stroke-linecap="butt"/>
<line x1="542.9" y1="362.9" x2="558.2" y2="377.3" stroke-width="2.9" stroke-linecap="butt"/>
<polygon class="ah" points="575,393 554.6,379.7 560.4,373.4"/>
<line x1="735.5" y1="555.5" x2="771.3" y2="568.5" stroke-width="2" stroke-linecap="butt"/>
<line x1="751.6" y1="561.3" x2="771.3" y2="568.5" stroke-width="2.9" stroke-linecap="butt"/>
<polygon class="ah" points="792.9,576.4 768.9,572.2 771.8,564.1"/>
<line x1="948" y1="622.5" x2="904.6" y2="631.9" stroke-width="2" stroke-linecap="butt"/>
<line x1="925.1" y1="627.4" x2="904.6" y2="631.9" stroke-width="2.9" stroke-linecap="butt"/>
<polygon class="ah" points="882.1,636.7 904.7,627.4 906.5,635.8"/>
<line x1="607.7" y1="755.9" x2="580.6" y2="738.5" stroke-width="2" stroke-linecap="butt"/>
<line x1="598.3" y1="749.8" x2="580.6" y2="738.5" stroke-width="2.9" stroke-linecap="butt"/>
<polygon class="ah" points="561.3,726 583.8,735.4 579.1,742.6"/>
<line x1="578.8" y1="782.1" x2="551.7" y2="764.6" stroke-width="2" stroke-linecap="butt"/>
<line x1="569.3" y1="776" x2="551.7" y2="764.6" stroke-width="2.9" stroke-linecap="butt"/>
<polygon class="ah" points="532.4,752.1 554.9,761.5 550.2,768.7"/>
<line x1="213.3" y1="500" x2="244.9" y2="602.7" stroke-width="2" stroke-linecap="butt"/>
<line x1="238.8" y1="582.6" x2="244.9" y2="602.7" stroke-width="2.9" stroke-linecap="butt"/>
<polygon class="ah" points="251.7,624.7 240.5,603 248.7,600.5"/>
<line x1="123.3" y1="758.3" x2="138.7" y2="742.9" stroke-width="2" stroke-linecap="butt"/>
<line x1="124.7" y1="756.9" x2="138.7" y2="742.9" stroke-width="2.9" stroke-linecap="butt"/>
<polygon class="ah" points="155,726.7 141,746.7 135,740.6"/>
<line x1="257.7" y1="866.2" x2="273.7" y2="864.2" stroke-width="2" stroke-linecap="butt"/>
<line x1="259.7" y1="866" x2="273.7" y2="864.2" stroke-width="2.9" stroke-linecap="butt"/>
<polygon class="ah" points="296.5,861.4 273.2,868.6 272.2,860.1"/>
<line x1="565.2" y1="1060" x2="573.1" y2="998" stroke-width="2" stroke-linecap="butt"/>
<line x1="570.4" y1="1018.8" x2="573.1" y2="998" stroke-width="2.9" stroke-linecap="butt"/>
<polygon class="ah" points="576,975.2 577.2,999.6 568.7,998.5"/>
<line x1="595" y1="1080.5" x2="653.1" y2="1074" stroke-width="2" stroke-linecap="butt"/>
<line x1="632.3" y1="1076.4" x2="653.1" y2="1074" stroke-width="2.9" stroke-linecap="butt"/>
<polygon class="ah" points="676,1071.5 652.6,1078.4 651.7,1069.9"/>
<line x1="178.1" y1="545.5" x2="127.8" y2="574.1" stroke-width="2" stroke-linecap="butt"/>
<line x1="146" y1="563.7" x2="127.8" y2="574.1" stroke-width="2.9" stroke-linecap="butt"/>
<polygon class="ah" points="107.8,585.5 126.5,569.9 130.8,577.4"/>
<line x1="761" y1="859.3" x2="765.6" y2="908.1" stroke-width="2" stroke-linecap="butt"/>
<line x1="763.6" y1="887.2" x2="765.6" y2="908.1" stroke-width="2.9" stroke-linecap="butt"/>
<polygon class="ah" points="767.7,931 761.2,907.5 769.7,906.7"/>
<line x1="591" y1="1146" x2="623" y2="1174.1" stroke-width="2" stroke-linecap="butt"/>
<line x1="607.2" y1="1160.3" x2="623" y2="1174.1" stroke-width="2.9" stroke-linecap="butt"/>
<polygon class="ah" points="640.3,1189.3 619.4,1176.7 625.1,1170.2"/>
<line x1="763.4" y1="1230.5" x2="763.4" y2="1274.3" stroke-width="2" stroke-linecap="butt"/>
<line x1="763.4" y1="1253.3" x2="763.4" y2="1274.3" stroke-width="2.9" stroke-linecap="butt"/>
<polygon class="ah" points="763.4,1297.3 759.1,1273.3 767.7,1273.3"/>
<line x1="581" y1="1289.3" x2="581" y2="1260.7" stroke-width="2" stroke-linecap="butt"/>
<line x1="581" y1="1281.7" x2="581" y2="1260.7" stroke-width="2.9" stroke-linecap="butt"/>
<polygon class="ah" points="581,1237.7 585.3,1261.7 576.7,1261.7"/>
<line x1="123.1" y1="1319" x2="175.1" y2="1277.9" stroke-width="2" stroke-linecap="butt"/>
<line x1="158.6" y1="1290.9" x2="175.1" y2="1277.9" stroke-width="2.9" stroke-linecap="butt"/>
<polygon class="ah" points="193.1,1263.6 176.9,1281.9 171.6,1275.1"/>
<line x1="362" y1="427" x2="406.6" y2="447.8" stroke-width="2" stroke-linecap="butt"/>
<line x1="387.6" y1="438.9" x2="406.6" y2="447.8" stroke-width="2.9" stroke-linecap="butt"/>
<polygon class="ah" points="427.5,457.5 403.9,451.3 407.6,443.5"/>
<line x1="970.5" y1="330.5" x2="1003.2" y2="351.3" stroke-width="2" stroke-linecap="butt"/>
<line x1="985.5" y1="340" x2="1003.2" y2="351.3" stroke-width="2.9" stroke-linecap="butt"/>
<polygon class="ah" points="1022.6,363.6 1000,354.4 1004.6,347.1"/>
<line x1="1177" y1="339.5" x2="1131.1" y2="359.4" stroke-width="2" stroke-linecap="butt"/>
<line x1="1150.4" y1="351" x2="1131.1" y2="359.4" stroke-width="2.9" stroke-linecap="butt"/>
<polygon class="ah" points="1110,368.5 1130.3,355 1133.7,362.9"/>
</svg>
</body></html>
